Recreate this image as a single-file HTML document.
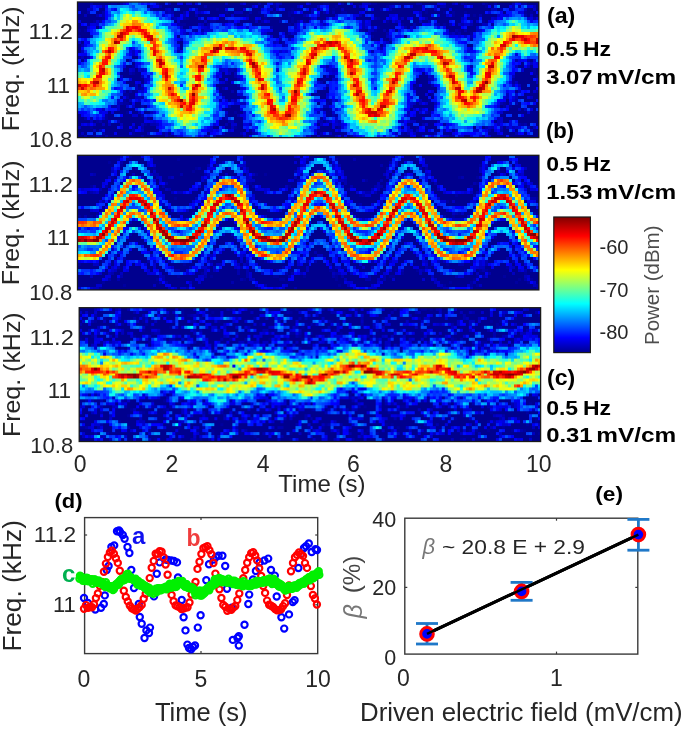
<!DOCTYPE html>
<html><head><meta charset="utf-8"><style>
html,body{margin:0;padding:0;background:#fff;}
#root{position:relative;width:685px;height:729px;overflow:hidden;background:#fff;font-family:"Liberation Sans", sans-serif;}
svg text{font-family:"Liberation Sans", sans-serif;}
</style></head><body><div id="root">
<svg width="685" height="729" style="position:absolute;left:0;top:0"><defs><filter id="fbl" filterUnits="userSpaceOnUse" x="0" y="0" width="685" height="729"><feGaussianBlur stdDeviation="2.5"/></filter><clipPath id="cp0"><rect x="77.5" y="2.0" width="461.3" height="135.6"/></clipPath><clipPath id="cp1"><rect x="77.5" y="155.3" width="461.4" height="134.6"/></clipPath><clipPath id="cp2"><rect x="79.2" y="307.7" width="461.4" height="133.8"/></clipPath></defs><g clip-path="url(#cp0)"><rect x="77.5" y="2.0" width="461.3" height="135.6" fill="#00008f"/><g fill="none" stroke-linejoin="round" filter="url(#fbl)"><polyline points="77.5,85.0 80.5,85.1 83.5,86.4 86.5,87.0 89.5,87.0 92.5,84.8 95.5,81.2 98.5,76.3 101.5,68.7 104.5,61.9 107.5,56.0 110.5,50.1 113.5,44.7 116.5,40.8 119.5,37.3 122.5,34.4 125.5,31.4 128.5,28.3 131.5,27.7 134.5,27.6 137.5,28.5 140.5,30.5 143.5,32.6 146.5,35.1 149.5,37.6 152.5,44.7 155.5,52.7 158.5,59.0 161.5,64.7 164.5,70.0 167.5,81.1 170.5,90.5 173.5,96.1 176.5,98.4 179.5,100.6 182.5,104.8 185.5,109.2 188.5,106.5 191.5,102.3 194.5,90.8 197.5,77.6 200.5,68.9 203.5,60.9 206.5,55.9 209.5,53.7 212.5,51.8 215.5,50.3 218.5,48.8 221.5,47.8 224.5,47.4 227.5,47.1 230.5,47.6 233.5,48.4 236.5,49.1 239.5,49.9 242.5,51.2 245.5,52.8 248.5,55.1 251.5,61.7 254.5,68.0 257.5,74.0 260.5,81.9 263.5,91.0 266.5,97.0 269.5,103.1 272.5,109.7 275.5,114.5 278.5,117.5 281.5,118.5 284.5,117.5 287.5,113.8 290.5,107.2 293.5,98.6 296.5,87.8 299.5,79.8 302.5,72.2 305.5,67.7 308.5,61.5 311.5,55.4 314.5,52.1 317.5,48.7 320.5,46.7 323.5,46.1 326.5,45.5 329.5,44.9 332.5,44.2 335.5,43.6 338.5,43.6 341.5,47.1 344.5,51.1 347.5,57.6 350.5,64.5 353.5,73.5 356.5,82.5 359.5,91.5 362.5,99.8 365.5,107.2 368.5,111.8 371.5,113.2 374.5,114.8 377.5,112.5 380.5,109.5 383.5,104.5 386.5,98.8 389.5,91.7 392.5,84.6 395.5,78.0 398.5,72.0 401.5,66.0 404.5,61.8 407.5,57.9 410.5,55.0 413.5,53.0 416.5,51.0 419.5,49.9 422.5,49.6 425.5,49.3 428.5,49.0 431.5,50.8 434.5,52.9 437.5,55.0 440.5,57.9 443.5,61.8 446.5,66.0 449.5,72.0 452.5,77.9 455.5,83.4 458.5,89.0 461.5,95.0 464.5,100.5 467.5,103.5 470.5,102.5 473.5,97.5 476.5,93.1 479.5,89.4 482.5,85.6 485.5,80.0 488.5,74.0 491.5,67.0 494.5,59.9 497.5,53.4 500.5,47.6 503.5,45.4 506.5,43.1 509.5,41.1 512.5,39.2 515.5,37.3 518.5,37.8 521.5,38.8 524.5,39.8 527.5,40.0 530.5,40.0 533.5,40.1 536.5,40.9" stroke="#20a0ff" stroke-width="48"/><polyline points="77.5,85.0 80.5,85.1 83.5,86.4 86.5,87.0 89.5,87.0 92.5,84.8 95.5,81.2 98.5,76.3 101.5,68.7 104.5,61.9 107.5,56.0 110.5,50.1 113.5,44.7 116.5,40.8 119.5,37.3 122.5,34.4 125.5,31.4 128.5,28.3 131.5,27.7 134.5,27.6 137.5,28.5 140.5,30.5 143.5,32.6 146.5,35.1 149.5,37.6 152.5,44.7 155.5,52.7 158.5,59.0 161.5,64.7 164.5,70.0 167.5,81.1 170.5,90.5 173.5,96.1 176.5,98.4 179.5,100.6 182.5,104.8 185.5,109.2 188.5,106.5 191.5,102.3 194.5,90.8 197.5,77.6 200.5,68.9 203.5,60.9 206.5,55.9 209.5,53.7 212.5,51.8 215.5,50.3 218.5,48.8 221.5,47.8 224.5,47.4 227.5,47.1 230.5,47.6 233.5,48.4 236.5,49.1 239.5,49.9 242.5,51.2 245.5,52.8 248.5,55.1 251.5,61.7 254.5,68.0 257.5,74.0 260.5,81.9 263.5,91.0 266.5,97.0 269.5,103.1 272.5,109.7 275.5,114.5 278.5,117.5 281.5,118.5 284.5,117.5 287.5,113.8 290.5,107.2 293.5,98.6 296.5,87.8 299.5,79.8 302.5,72.2 305.5,67.7 308.5,61.5 311.5,55.4 314.5,52.1 317.5,48.7 320.5,46.7 323.5,46.1 326.5,45.5 329.5,44.9 332.5,44.2 335.5,43.6 338.5,43.6 341.5,47.1 344.5,51.1 347.5,57.6 350.5,64.5 353.5,73.5 356.5,82.5 359.5,91.5 362.5,99.8 365.5,107.2 368.5,111.8 371.5,113.2 374.5,114.8 377.5,112.5 380.5,109.5 383.5,104.5 386.5,98.8 389.5,91.7 392.5,84.6 395.5,78.0 398.5,72.0 401.5,66.0 404.5,61.8 407.5,57.9 410.5,55.0 413.5,53.0 416.5,51.0 419.5,49.9 422.5,49.6 425.5,49.3 428.5,49.0 431.5,50.8 434.5,52.9 437.5,55.0 440.5,57.9 443.5,61.8 446.5,66.0 449.5,72.0 452.5,77.9 455.5,83.4 458.5,89.0 461.5,95.0 464.5,100.5 467.5,103.5 470.5,102.5 473.5,97.5 476.5,93.1 479.5,89.4 482.5,85.6 485.5,80.0 488.5,74.0 491.5,67.0 494.5,59.9 497.5,53.4 500.5,47.6 503.5,45.4 506.5,43.1 509.5,41.1 512.5,39.2 515.5,37.3 518.5,37.8 521.5,38.8 524.5,39.8 527.5,40.0 530.5,40.0 533.5,40.1 536.5,40.9" stroke="#40ffc0" stroke-width="30"/><polyline points="77.5,85.0 80.5,85.1 83.5,86.4 86.5,87.0 89.5,87.0 92.5,84.8 95.5,81.2 98.5,76.3 101.5,68.7 104.5,61.9 107.5,56.0 110.5,50.1 113.5,44.7 116.5,40.8 119.5,37.3 122.5,34.4 125.5,31.4 128.5,28.3 131.5,27.7 134.5,27.6 137.5,28.5 140.5,30.5 143.5,32.6 146.5,35.1 149.5,37.6 152.5,44.7 155.5,52.7 158.5,59.0 161.5,64.7 164.5,70.0 167.5,81.1 170.5,90.5 173.5,96.1 176.5,98.4 179.5,100.6 182.5,104.8 185.5,109.2 188.5,106.5 191.5,102.3 194.5,90.8 197.5,77.6 200.5,68.9 203.5,60.9 206.5,55.9 209.5,53.7 212.5,51.8 215.5,50.3 218.5,48.8 221.5,47.8 224.5,47.4 227.5,47.1 230.5,47.6 233.5,48.4 236.5,49.1 239.5,49.9 242.5,51.2 245.5,52.8 248.5,55.1 251.5,61.7 254.5,68.0 257.5,74.0 260.5,81.9 263.5,91.0 266.5,97.0 269.5,103.1 272.5,109.7 275.5,114.5 278.5,117.5 281.5,118.5 284.5,117.5 287.5,113.8 290.5,107.2 293.5,98.6 296.5,87.8 299.5,79.8 302.5,72.2 305.5,67.7 308.5,61.5 311.5,55.4 314.5,52.1 317.5,48.7 320.5,46.7 323.5,46.1 326.5,45.5 329.5,44.9 332.5,44.2 335.5,43.6 338.5,43.6 341.5,47.1 344.5,51.1 347.5,57.6 350.5,64.5 353.5,73.5 356.5,82.5 359.5,91.5 362.5,99.8 365.5,107.2 368.5,111.8 371.5,113.2 374.5,114.8 377.5,112.5 380.5,109.5 383.5,104.5 386.5,98.8 389.5,91.7 392.5,84.6 395.5,78.0 398.5,72.0 401.5,66.0 404.5,61.8 407.5,57.9 410.5,55.0 413.5,53.0 416.5,51.0 419.5,49.9 422.5,49.6 425.5,49.3 428.5,49.0 431.5,50.8 434.5,52.9 437.5,55.0 440.5,57.9 443.5,61.8 446.5,66.0 449.5,72.0 452.5,77.9 455.5,83.4 458.5,89.0 461.5,95.0 464.5,100.5 467.5,103.5 470.5,102.5 473.5,97.5 476.5,93.1 479.5,89.4 482.5,85.6 485.5,80.0 488.5,74.0 491.5,67.0 494.5,59.9 497.5,53.4 500.5,47.6 503.5,45.4 506.5,43.1 509.5,41.1 512.5,39.2 515.5,37.3 518.5,37.8 521.5,38.8 524.5,39.8 527.5,40.0 530.5,40.0 533.5,40.1 536.5,40.9" stroke="#f0f000" stroke-width="16"/><polyline points="77.5,85.0 80.5,85.1 83.5,86.4 86.5,87.0 89.5,87.0 92.5,84.8 95.5,81.2 98.5,76.3 101.5,68.7 104.5,61.9 107.5,56.0 110.5,50.1 113.5,44.7 116.5,40.8 119.5,37.3 122.5,34.4 125.5,31.4 128.5,28.3 131.5,27.7 134.5,27.6 137.5,28.5 140.5,30.5 143.5,32.6 146.5,35.1 149.5,37.6 152.5,44.7 155.5,52.7 158.5,59.0 161.5,64.7 164.5,70.0 167.5,81.1 170.5,90.5 173.5,96.1 176.5,98.4 179.5,100.6 182.5,104.8 185.5,109.2 188.5,106.5 191.5,102.3 194.5,90.8 197.5,77.6 200.5,68.9 203.5,60.9 206.5,55.9 209.5,53.7 212.5,51.8 215.5,50.3 218.5,48.8 221.5,47.8 224.5,47.4 227.5,47.1 230.5,47.6 233.5,48.4 236.5,49.1 239.5,49.9 242.5,51.2 245.5,52.8 248.5,55.1 251.5,61.7 254.5,68.0 257.5,74.0 260.5,81.9 263.5,91.0 266.5,97.0 269.5,103.1 272.5,109.7 275.5,114.5 278.5,117.5 281.5,118.5 284.5,117.5 287.5,113.8 290.5,107.2 293.5,98.6 296.5,87.8 299.5,79.8 302.5,72.2 305.5,67.7 308.5,61.5 311.5,55.4 314.5,52.1 317.5,48.7 320.5,46.7 323.5,46.1 326.5,45.5 329.5,44.9 332.5,44.2 335.5,43.6 338.5,43.6 341.5,47.1 344.5,51.1 347.5,57.6 350.5,64.5 353.5,73.5 356.5,82.5 359.5,91.5 362.5,99.8 365.5,107.2 368.5,111.8 371.5,113.2 374.5,114.8 377.5,112.5 380.5,109.5 383.5,104.5 386.5,98.8 389.5,91.7 392.5,84.6 395.5,78.0 398.5,72.0 401.5,66.0 404.5,61.8 407.5,57.9 410.5,55.0 413.5,53.0 416.5,51.0 419.5,49.9 422.5,49.6 425.5,49.3 428.5,49.0 431.5,50.8 434.5,52.9 437.5,55.0 440.5,57.9 443.5,61.8 446.5,66.0 449.5,72.0 452.5,77.9 455.5,83.4 458.5,89.0 461.5,95.0 464.5,100.5 467.5,103.5 470.5,102.5 473.5,97.5 476.5,93.1 479.5,89.4 482.5,85.6 485.5,80.0 488.5,74.0 491.5,67.0 494.5,59.9 497.5,53.4 500.5,47.6 503.5,45.4 506.5,43.1 509.5,41.1 512.5,39.2 515.5,37.3 518.5,37.8 521.5,38.8 524.5,39.8 527.5,40.0 530.5,40.0 533.5,40.1 536.5,40.9" stroke="#ff1000" stroke-width="5"/></g></g><g clip-path="url(#cp1)"><rect x="77.5" y="155.3" width="461.4" height="134.6" fill="#00008f"/><g fill="none" stroke-linejoin="round" filter="url(#fbl)"><polyline points="77.5,239.9 80.5,239.7 83.5,239.8 86.5,239.9 89.5,240.0 92.5,240.1 95.5,240.2 98.5,238.4 101.5,235.8 104.5,232.7 107.5,229.0 110.5,224.8 113.5,220.4 116.5,216.0 119.5,211.4 122.5,206.8 125.5,202.7 128.5,199.5 131.5,197.2 134.5,196.8 137.5,198.3 140.5,200.2 143.5,202.9 146.5,206.1 149.5,210.4 152.5,215.6 155.5,222.0 158.5,227.9 161.5,230.8 164.5,233.9 167.5,237.3 170.5,239.6 173.5,240.8 176.5,241.0 179.5,241.1 182.5,241.2 185.5,241.1 188.5,240.0 191.5,238.6 194.5,236.0 197.5,233.0 200.5,229.6 203.5,225.8 206.5,220.4 209.5,214.8 212.5,208.6 215.5,204.4 218.5,201.4 221.5,199.0 224.5,197.8 227.5,197.1 230.5,197.4 233.5,199.3 236.5,202.3 239.5,206.6 242.5,212.8 245.5,220.7 248.5,226.3 251.5,230.9 254.5,235.0 257.5,236.8 260.5,238.1 263.5,238.8 266.5,239.6 269.5,240.4 272.5,240.8 275.5,241.0 278.5,240.7 281.5,240.0 284.5,237.7 287.5,234.0 290.5,229.4 293.5,224.8 296.5,222.4 299.5,216.3 302.5,210.1 305.5,204.4 308.5,199.1 311.5,196.7 314.5,194.8 317.5,193.2 320.5,193.0 323.5,193.9 326.5,197.0 329.5,201.0 332.5,205.8 335.5,211.1 338.5,217.2 341.5,222.5 344.5,227.4 347.5,231.9 350.5,236.1 353.5,238.5 356.5,240.0 359.5,241.5 362.5,241.8 365.5,242.0 368.5,241.6 371.5,240.8 374.5,238.8 377.5,236.2 380.5,233.1 383.5,229.2 386.5,224.7 389.5,219.2 392.5,214.3 395.5,209.8 398.5,205.5 401.5,201.7 404.5,199.0 407.5,197.5 410.5,197.7 413.5,199.7 416.5,202.3 419.5,205.6 422.5,209.4 425.5,215.4 428.5,221.3 431.5,226.0 434.5,229.7 437.5,234.2 440.5,237.0 443.5,238.7 446.5,239.8 449.5,240.8 452.5,241.2 455.5,241.6 458.5,241.6 461.5,241.6 464.5,241.6 467.5,240.0 470.5,238.3 473.5,235.4 476.5,230.8 479.5,224.7 482.5,217.4 485.5,210.4 488.5,205.3 491.5,201.7 494.5,199.9 497.5,198.5 500.5,197.2 503.5,197.4 506.5,197.9 509.5,201.6 512.5,206.1 515.5,210.6 518.5,215.5 521.5,220.8 524.5,225.9 527.5,230.5 530.5,233.9 533.5,236.3 536.5,237.7" stroke="#1ee0ff" stroke-width="46"/><polyline points="77.5,207.7 80.5,207.5 83.5,207.6 86.5,207.7 89.5,207.8 92.5,207.9 95.5,208.0 98.5,206.2 101.5,203.6 104.5,200.5 107.5,196.8 110.5,192.6 113.5,188.2 116.5,183.8 119.5,179.2 122.5,174.6 125.5,170.5 128.5,167.3 131.5,165.0 134.5,164.6 137.5,166.1 140.5,168.0 143.5,170.7 146.5,173.9 149.5,178.2 152.5,183.4 155.5,189.8 158.5,195.7 161.5,198.6 164.5,201.7 167.5,205.1 170.5,207.4 173.5,208.6 176.5,208.8 179.5,208.9 182.5,209.0 185.5,208.9 188.5,207.8 191.5,206.4 194.5,203.8 197.5,200.8 200.5,197.4 203.5,193.6 206.5,188.2 209.5,182.6 212.5,176.4 215.5,172.2 218.5,169.2 221.5,166.8 224.5,165.6 227.5,164.9 230.5,165.2 233.5,167.1 236.5,170.1 239.5,174.4 242.5,180.6 245.5,188.5 248.5,194.1 251.5,198.7 254.5,202.8 257.5,204.6 260.5,205.9 263.5,206.6 266.5,207.4 269.5,208.2 272.5,208.6 275.5,208.8 278.5,208.5 281.5,207.8 284.5,205.5 287.5,201.8 290.5,197.2 293.5,192.6 296.5,190.2 299.5,184.1 302.5,177.9 305.5,172.2 308.5,166.9 311.5,164.5 314.5,162.6 317.5,161.1 320.5,160.8 323.5,161.7 326.5,164.8 329.5,168.8 332.5,173.6 335.5,178.9 338.5,185.0 341.5,190.3 344.5,195.2 347.5,199.7 350.5,203.9 353.5,206.3 356.5,207.8 359.5,209.3 362.5,209.6 365.5,209.8 368.5,209.4 371.5,208.6 374.5,206.6 377.5,204.0 380.5,200.9 383.5,197.0 386.5,192.5 389.5,187.0 392.5,182.1 395.5,177.6 398.5,173.3 401.5,169.5 404.5,166.8 407.5,165.3 410.5,165.5 413.5,167.5 416.5,170.1 419.5,173.4 422.5,177.2 425.5,183.2 428.5,189.1 431.5,193.8 434.5,197.5 437.5,202.0 440.5,204.8 443.5,206.5 446.5,207.6 449.5,208.6 452.5,209.0 455.5,209.4 458.5,209.4 461.5,209.4 464.5,209.4 467.5,207.8 470.5,206.1 473.5,203.2 476.5,198.6 479.5,192.5 482.5,185.2 485.5,178.2 488.5,173.1 491.5,169.5 494.5,167.7 497.5,166.3 500.5,165.0 503.5,165.2 506.5,165.7 509.5,169.4 512.5,173.9 515.5,178.4 518.5,183.3 521.5,188.6 524.5,193.7 527.5,198.3 530.5,201.7 533.5,204.1 536.5,205.5" stroke="#30c0ff" stroke-width="4"/><polyline points="77.5,272.1 80.5,271.9 83.5,272.0 86.5,272.1 89.5,272.2 92.5,272.3 95.5,272.4 98.5,270.6 101.5,268.0 104.5,264.9 107.5,261.2 110.5,257.0 113.5,252.6 116.5,248.2 119.5,243.6 122.5,239.0 125.5,234.9 128.5,231.7 131.5,229.4 134.5,229.0 137.5,230.5 140.5,232.4 143.5,235.1 146.5,238.3 149.5,242.6 152.5,247.8 155.5,254.2 158.5,260.1 161.5,263.0 164.5,266.1 167.5,269.5 170.5,271.8 173.5,273.0 176.5,273.2 179.5,273.3 182.5,273.4 185.5,273.3 188.5,272.2 191.5,270.8 194.5,268.2 197.5,265.2 200.5,261.8 203.5,258.0 206.5,252.6 209.5,246.9 212.5,240.8 215.5,236.6 218.5,233.6 221.5,231.2 224.5,229.9 227.5,229.3 230.5,229.6 233.5,231.5 236.5,234.5 239.5,238.8 242.5,245.0 245.5,252.9 248.5,258.5 251.5,263.1 254.5,267.2 257.5,269.0 260.5,270.3 263.5,271.0 266.5,271.8 269.5,272.6 272.5,273.0 275.5,273.2 278.5,272.9 281.5,272.2 284.5,269.9 287.5,266.2 290.5,261.6 293.5,257.0 296.5,254.6 299.5,248.5 302.5,242.3 305.5,236.6 308.5,231.3 311.5,228.9 314.5,226.9 317.5,225.4 320.5,225.2 323.5,226.1 326.5,229.2 329.5,233.2 332.5,238.0 335.5,243.3 338.5,249.4 341.5,254.7 344.5,259.6 347.5,264.1 350.5,268.3 353.5,270.8 356.5,272.2 359.5,273.8 362.5,274.0 365.5,274.2 368.5,273.8 371.5,273.0 374.5,271.0 377.5,268.4 380.5,265.3 383.5,261.4 386.5,256.9 389.5,251.4 392.5,246.5 395.5,242.0 398.5,237.7 401.5,233.9 404.5,231.2 407.5,229.7 410.5,229.9 413.5,231.9 416.5,234.5 419.5,237.8 422.5,241.6 425.5,247.6 428.5,253.5 431.5,258.2 434.5,261.9 437.5,266.4 440.5,269.2 443.5,270.9 446.5,272.0 449.5,273.0 452.5,273.4 455.5,273.8 458.5,273.8 461.5,273.8 464.5,273.8 467.5,272.2 470.5,270.5 473.5,267.6 476.5,263.0 479.5,256.9 482.5,249.6 485.5,242.6 488.5,237.5 491.5,233.9 494.5,232.1 497.5,230.7 500.5,229.4 503.5,229.6 506.5,230.1 509.5,233.8 512.5,238.3 515.5,242.8 518.5,247.7 521.5,253.0 524.5,258.1 527.5,262.7 530.5,266.1 533.5,268.5 536.5,269.9" stroke="#30c0ff" stroke-width="4"/><polyline points="77.5,223.8 80.5,223.6 83.5,223.7 86.5,223.8 89.5,223.9 92.5,224.0 95.5,224.1 98.5,222.3 101.5,219.7 104.5,216.6 107.5,212.9 110.5,208.7 113.5,204.3 116.5,199.9 119.5,195.3 122.5,190.7 125.5,186.6 128.5,183.4 131.5,181.1 134.5,180.7 137.5,182.2 140.5,184.1 143.5,186.8 146.5,190.0 149.5,194.3 152.5,199.5 155.5,205.9 158.5,211.8 161.5,214.7 164.5,217.8 167.5,221.2 170.5,223.5 173.5,224.7 176.5,224.9 179.5,225.0 182.5,225.1 185.5,225.0 188.5,223.9 191.5,222.5 194.5,219.9 197.5,216.9 200.5,213.5 203.5,209.7 206.5,204.3 209.5,198.7 212.5,192.5 215.5,188.3 218.5,185.3 221.5,182.9 224.5,181.7 227.5,181.0 230.5,181.3 233.5,183.2 236.5,186.2 239.5,190.5 242.5,196.7 245.5,204.6 248.5,210.2 251.5,214.8 254.5,218.9 257.5,220.7 260.5,222.0 263.5,222.7 266.5,223.5 269.5,224.3 272.5,224.7 275.5,224.9 278.5,224.6 281.5,223.9 284.5,221.6 287.5,217.9 290.5,213.3 293.5,208.7 296.5,206.3 299.5,200.2 302.5,194.0 305.5,188.3 308.5,183.0 311.5,180.6 314.5,178.7 317.5,177.2 320.5,176.9 323.5,177.8 326.5,180.9 329.5,184.9 332.5,189.7 335.5,195.0 338.5,201.1 341.5,206.4 344.5,211.3 347.5,215.8 350.5,220.0 353.5,222.4 356.5,223.9 359.5,225.4 362.5,225.7 365.5,225.9 368.5,225.5 371.5,224.7 374.5,222.7 377.5,220.1 380.5,217.0 383.5,213.1 386.5,208.6 389.5,203.1 392.5,198.2 395.5,193.7 398.5,189.4 401.5,185.6 404.5,182.9 407.5,181.4 410.5,181.6 413.5,183.6 416.5,186.2 419.5,189.5 422.5,193.3 425.5,199.3 428.5,205.2 431.5,209.9 434.5,213.6 437.5,218.1 440.5,220.9 443.5,222.6 446.5,223.7 449.5,224.7 452.5,225.1 455.5,225.5 458.5,225.5 461.5,225.5 464.5,225.5 467.5,223.9 470.5,222.2 473.5,219.3 476.5,214.7 479.5,208.6 482.5,201.3 485.5,194.3 488.5,189.2 491.5,185.6 494.5,183.8 497.5,182.4 500.5,181.1 503.5,181.3 506.5,181.8 509.5,185.5 512.5,190.0 515.5,194.5 518.5,199.4 521.5,204.7 524.5,209.8 527.5,214.4 530.5,217.8 533.5,220.2 536.5,221.6" stroke="#ffa000" stroke-width="5"/><polyline points="77.5,256.0 80.5,255.8 83.5,255.9 86.5,256.0 89.5,256.1 92.5,256.2 95.5,256.3 98.5,254.5 101.5,251.9 104.5,248.8 107.5,245.1 110.5,240.9 113.5,236.5 116.5,232.1 119.5,227.5 122.5,222.9 125.5,218.8 128.5,215.6 131.5,213.3 134.5,212.9 137.5,214.4 140.5,216.3 143.5,219.0 146.5,222.2 149.5,226.5 152.5,231.7 155.5,238.1 158.5,244.0 161.5,246.9 164.5,250.0 167.5,253.4 170.5,255.7 173.5,256.9 176.5,257.1 179.5,257.2 182.5,257.3 185.5,257.2 188.5,256.1 191.5,254.7 194.5,252.1 197.5,249.1 200.5,245.7 203.5,241.9 206.5,236.5 209.5,230.8 212.5,224.7 215.5,220.5 218.5,217.5 221.5,215.1 224.5,213.8 227.5,213.2 230.5,213.5 233.5,215.4 236.5,218.4 239.5,222.7 242.5,228.9 245.5,236.8 248.5,242.4 251.5,247.0 254.5,251.1 257.5,252.9 260.5,254.2 263.5,254.9 266.5,255.7 269.5,256.5 272.5,256.9 275.5,257.1 278.5,256.8 281.5,256.1 284.5,253.8 287.5,250.1 290.5,245.5 293.5,240.9 296.5,238.5 299.5,232.4 302.5,226.2 305.5,220.5 308.5,215.2 311.5,212.8 314.5,210.8 317.5,209.3 320.5,209.1 323.5,210.0 326.5,213.1 329.5,217.1 332.5,221.9 335.5,227.2 338.5,233.3 341.5,238.6 344.5,243.5 347.5,248.0 350.5,252.2 353.5,254.6 356.5,256.1 359.5,257.6 362.5,257.9 365.5,258.1 368.5,257.7 371.5,256.9 374.5,254.9 377.5,252.3 380.5,249.2 383.5,245.3 386.5,240.8 389.5,235.3 392.5,230.4 395.5,225.9 398.5,221.6 401.5,217.8 404.5,215.1 407.5,213.6 410.5,213.8 413.5,215.8 416.5,218.4 419.5,221.7 422.5,225.5 425.5,231.5 428.5,237.4 431.5,242.1 434.5,245.8 437.5,250.3 440.5,253.1 443.5,254.8 446.5,255.9 449.5,256.9 452.5,257.3 455.5,257.7 458.5,257.7 461.5,257.7 464.5,257.7 467.5,256.1 470.5,254.4 473.5,251.5 476.5,246.9 479.5,240.8 482.5,233.5 485.5,226.5 488.5,221.4 491.5,217.8 494.5,216.0 497.5,214.6 500.5,213.3 503.5,213.5 506.5,214.0 509.5,217.7 512.5,222.2 515.5,226.7 518.5,231.6 521.5,236.9 524.5,242.0 527.5,246.6 530.5,250.0 533.5,252.4 536.5,253.8" stroke="#ffa000" stroke-width="5"/><polyline points="77.5,239.9 80.5,239.7 83.5,239.8 86.5,239.9 89.5,240.0 92.5,240.1 95.5,240.2 98.5,238.4 101.5,235.8 104.5,232.7 107.5,229.0 110.5,224.8 113.5,220.4 116.5,216.0 119.5,211.4 122.5,206.8 125.5,202.7 128.5,199.5 131.5,197.2 134.5,196.8 137.5,198.3 140.5,200.2 143.5,202.9 146.5,206.1 149.5,210.4 152.5,215.6 155.5,222.0 158.5,227.9 161.5,230.8 164.5,233.9 167.5,237.3 170.5,239.6 173.5,240.8 176.5,241.0 179.5,241.1 182.5,241.2 185.5,241.1 188.5,240.0 191.5,238.6 194.5,236.0 197.5,233.0 200.5,229.6 203.5,225.8 206.5,220.4 209.5,214.8 212.5,208.6 215.5,204.4 218.5,201.4 221.5,199.0 224.5,197.8 227.5,197.1 230.5,197.4 233.5,199.3 236.5,202.3 239.5,206.6 242.5,212.8 245.5,220.7 248.5,226.3 251.5,230.9 254.5,235.0 257.5,236.8 260.5,238.1 263.5,238.8 266.5,239.6 269.5,240.4 272.5,240.8 275.5,241.0 278.5,240.7 281.5,240.0 284.5,237.7 287.5,234.0 290.5,229.4 293.5,224.8 296.5,222.4 299.5,216.3 302.5,210.1 305.5,204.4 308.5,199.1 311.5,196.7 314.5,194.8 317.5,193.2 320.5,193.0 323.5,193.9 326.5,197.0 329.5,201.0 332.5,205.8 335.5,211.1 338.5,217.2 341.5,222.5 344.5,227.4 347.5,231.9 350.5,236.1 353.5,238.5 356.5,240.0 359.5,241.5 362.5,241.8 365.5,242.0 368.5,241.6 371.5,240.8 374.5,238.8 377.5,236.2 380.5,233.1 383.5,229.2 386.5,224.7 389.5,219.2 392.5,214.3 395.5,209.8 398.5,205.5 401.5,201.7 404.5,199.0 407.5,197.5 410.5,197.7 413.5,199.7 416.5,202.3 419.5,205.6 422.5,209.4 425.5,215.4 428.5,221.3 431.5,226.0 434.5,229.7 437.5,234.2 440.5,237.0 443.5,238.7 446.5,239.8 449.5,240.8 452.5,241.2 455.5,241.6 458.5,241.6 461.5,241.6 464.5,241.6 467.5,240.0 470.5,238.3 473.5,235.4 476.5,230.8 479.5,224.7 482.5,217.4 485.5,210.4 488.5,205.3 491.5,201.7 494.5,199.9 497.5,198.5 500.5,197.2 503.5,197.4 506.5,197.9 509.5,201.6 512.5,206.1 515.5,210.6 518.5,215.5 521.5,220.8 524.5,225.9 527.5,230.5 530.5,233.9 533.5,236.3 536.5,237.7" stroke="#c00000" stroke-width="6"/></g></g><g clip-path="url(#cp2)"><rect x="79.2" y="307.7" width="461.4" height="133.8" fill="#00008f"/><g fill="none" stroke-linejoin="round" filter="url(#fbl)"><polyline points="79.2,369.0 82.2,369.2 85.2,369.3 88.2,369.4 91.2,369.6 94.2,369.7 97.2,369.9 100.2,370.1 103.2,370.9 106.2,371.8 109.2,372.7 112.2,373.6 115.2,374.4 118.2,375.3 121.2,376.2 124.2,377.0 127.2,376.6 130.2,376.2 133.2,375.8 136.2,375.4 139.2,375.0 142.2,374.6 145.2,374.2 148.2,373.6 151.2,372.6 154.2,371.6 157.2,370.6 160.2,369.6 163.2,368.6 166.2,367.6 169.2,367.5 172.2,368.6 175.2,369.7 178.2,370.9 181.2,372.0 184.2,373.2 187.2,374.3 190.2,375.2 193.2,375.6 196.2,376.0 199.2,376.5 202.2,376.9 205.2,377.3 208.2,377.7 211.2,378.2 214.2,378.6 217.2,379.0 220.2,378.7 223.2,378.3 226.2,378.0 229.2,377.7 232.2,377.4 235.2,377.1 238.2,376.3 241.2,375.3 244.2,374.3 247.2,373.3 250.2,372.3 253.2,371.3 256.2,370.3 259.2,369.3 262.2,369.6 265.2,370.3 268.2,371.1 271.2,371.8 274.2,372.6 277.2,373.3 280.2,374.1 283.2,374.8 286.2,375.6 289.2,376.2 292.2,376.9 295.2,377.5 298.2,378.1 301.2,378.8 304.2,379.4 307.2,380.0 310.2,380.6 313.2,380.5 316.2,379.4 319.2,378.2 322.2,377.0 325.2,375.8 328.2,374.7 331.2,373.5 334.2,372.3 337.2,371.2 340.2,370.1 343.2,369.0 346.2,367.9 349.2,366.8 352.2,365.7 355.2,365.4 358.2,366.6 361.2,367.7 364.2,368.8 367.2,369.9 370.2,371.0 373.2,371.7 376.2,372.3 379.2,372.9 382.2,373.6 385.2,374.2 388.2,374.8 391.2,374.9 394.2,374.8 397.2,374.7 400.2,374.5 403.2,374.4 406.2,374.3 409.2,374.2 412.2,374.0 415.2,373.6 418.2,373.0 421.2,372.4 424.2,371.8 427.2,371.2 430.2,370.6 433.2,370.0 436.2,369.4 439.2,368.8 442.2,368.2 445.2,369.2 448.2,370.8 451.2,372.3 454.2,373.9 457.2,375.5 460.2,377.0 463.2,376.6 466.2,376.2 469.2,375.8 472.2,375.4 475.2,375.0 478.2,374.6 481.2,374.2 484.2,374.0 487.2,374.1 490.2,374.3 493.2,374.4 496.2,374.5 499.2,374.6 502.2,374.7 505.2,374.8 508.2,374.9 511.2,374.9 514.2,373.9 517.2,372.8 520.2,371.8 523.2,370.8 526.2,369.7 529.2,368.7 532.2,367.6 535.2,367.1 538.2,367.5" stroke="#20a0ff" stroke-width="48"/><polyline points="79.2,369.0 82.2,369.2 85.2,369.3 88.2,369.4 91.2,369.6 94.2,369.7 97.2,369.9 100.2,370.1 103.2,370.9 106.2,371.8 109.2,372.7 112.2,373.6 115.2,374.4 118.2,375.3 121.2,376.2 124.2,377.0 127.2,376.6 130.2,376.2 133.2,375.8 136.2,375.4 139.2,375.0 142.2,374.6 145.2,374.2 148.2,373.6 151.2,372.6 154.2,371.6 157.2,370.6 160.2,369.6 163.2,368.6 166.2,367.6 169.2,367.5 172.2,368.6 175.2,369.7 178.2,370.9 181.2,372.0 184.2,373.2 187.2,374.3 190.2,375.2 193.2,375.6 196.2,376.0 199.2,376.5 202.2,376.9 205.2,377.3 208.2,377.7 211.2,378.2 214.2,378.6 217.2,379.0 220.2,378.7 223.2,378.3 226.2,378.0 229.2,377.7 232.2,377.4 235.2,377.1 238.2,376.3 241.2,375.3 244.2,374.3 247.2,373.3 250.2,372.3 253.2,371.3 256.2,370.3 259.2,369.3 262.2,369.6 265.2,370.3 268.2,371.1 271.2,371.8 274.2,372.6 277.2,373.3 280.2,374.1 283.2,374.8 286.2,375.6 289.2,376.2 292.2,376.9 295.2,377.5 298.2,378.1 301.2,378.8 304.2,379.4 307.2,380.0 310.2,380.6 313.2,380.5 316.2,379.4 319.2,378.2 322.2,377.0 325.2,375.8 328.2,374.7 331.2,373.5 334.2,372.3 337.2,371.2 340.2,370.1 343.2,369.0 346.2,367.9 349.2,366.8 352.2,365.7 355.2,365.4 358.2,366.6 361.2,367.7 364.2,368.8 367.2,369.9 370.2,371.0 373.2,371.7 376.2,372.3 379.2,372.9 382.2,373.6 385.2,374.2 388.2,374.8 391.2,374.9 394.2,374.8 397.2,374.7 400.2,374.5 403.2,374.4 406.2,374.3 409.2,374.2 412.2,374.0 415.2,373.6 418.2,373.0 421.2,372.4 424.2,371.8 427.2,371.2 430.2,370.6 433.2,370.0 436.2,369.4 439.2,368.8 442.2,368.2 445.2,369.2 448.2,370.8 451.2,372.3 454.2,373.9 457.2,375.5 460.2,377.0 463.2,376.6 466.2,376.2 469.2,375.8 472.2,375.4 475.2,375.0 478.2,374.6 481.2,374.2 484.2,374.0 487.2,374.1 490.2,374.3 493.2,374.4 496.2,374.5 499.2,374.6 502.2,374.7 505.2,374.8 508.2,374.9 511.2,374.9 514.2,373.9 517.2,372.8 520.2,371.8 523.2,370.8 526.2,369.7 529.2,368.7 532.2,367.6 535.2,367.1 538.2,367.5" stroke="#40ffc0" stroke-width="30"/><polyline points="79.2,369.0 82.2,369.2 85.2,369.3 88.2,369.4 91.2,369.6 94.2,369.7 97.2,369.9 100.2,370.1 103.2,370.9 106.2,371.8 109.2,372.7 112.2,373.6 115.2,374.4 118.2,375.3 121.2,376.2 124.2,377.0 127.2,376.6 130.2,376.2 133.2,375.8 136.2,375.4 139.2,375.0 142.2,374.6 145.2,374.2 148.2,373.6 151.2,372.6 154.2,371.6 157.2,370.6 160.2,369.6 163.2,368.6 166.2,367.6 169.2,367.5 172.2,368.6 175.2,369.7 178.2,370.9 181.2,372.0 184.2,373.2 187.2,374.3 190.2,375.2 193.2,375.6 196.2,376.0 199.2,376.5 202.2,376.9 205.2,377.3 208.2,377.7 211.2,378.2 214.2,378.6 217.2,379.0 220.2,378.7 223.2,378.3 226.2,378.0 229.2,377.7 232.2,377.4 235.2,377.1 238.2,376.3 241.2,375.3 244.2,374.3 247.2,373.3 250.2,372.3 253.2,371.3 256.2,370.3 259.2,369.3 262.2,369.6 265.2,370.3 268.2,371.1 271.2,371.8 274.2,372.6 277.2,373.3 280.2,374.1 283.2,374.8 286.2,375.6 289.2,376.2 292.2,376.9 295.2,377.5 298.2,378.1 301.2,378.8 304.2,379.4 307.2,380.0 310.2,380.6 313.2,380.5 316.2,379.4 319.2,378.2 322.2,377.0 325.2,375.8 328.2,374.7 331.2,373.5 334.2,372.3 337.2,371.2 340.2,370.1 343.2,369.0 346.2,367.9 349.2,366.8 352.2,365.7 355.2,365.4 358.2,366.6 361.2,367.7 364.2,368.8 367.2,369.9 370.2,371.0 373.2,371.7 376.2,372.3 379.2,372.9 382.2,373.6 385.2,374.2 388.2,374.8 391.2,374.9 394.2,374.8 397.2,374.7 400.2,374.5 403.2,374.4 406.2,374.3 409.2,374.2 412.2,374.0 415.2,373.6 418.2,373.0 421.2,372.4 424.2,371.8 427.2,371.2 430.2,370.6 433.2,370.0 436.2,369.4 439.2,368.8 442.2,368.2 445.2,369.2 448.2,370.8 451.2,372.3 454.2,373.9 457.2,375.5 460.2,377.0 463.2,376.6 466.2,376.2 469.2,375.8 472.2,375.4 475.2,375.0 478.2,374.6 481.2,374.2 484.2,374.0 487.2,374.1 490.2,374.3 493.2,374.4 496.2,374.5 499.2,374.6 502.2,374.7 505.2,374.8 508.2,374.9 511.2,374.9 514.2,373.9 517.2,372.8 520.2,371.8 523.2,370.8 526.2,369.7 529.2,368.7 532.2,367.6 535.2,367.1 538.2,367.5" stroke="#f0f000" stroke-width="16"/><polyline points="79.2,369.0 82.2,369.2 85.2,369.3 88.2,369.4 91.2,369.6 94.2,369.7 97.2,369.9 100.2,370.1 103.2,370.9 106.2,371.8 109.2,372.7 112.2,373.6 115.2,374.4 118.2,375.3 121.2,376.2 124.2,377.0 127.2,376.6 130.2,376.2 133.2,375.8 136.2,375.4 139.2,375.0 142.2,374.6 145.2,374.2 148.2,373.6 151.2,372.6 154.2,371.6 157.2,370.6 160.2,369.6 163.2,368.6 166.2,367.6 169.2,367.5 172.2,368.6 175.2,369.7 178.2,370.9 181.2,372.0 184.2,373.2 187.2,374.3 190.2,375.2 193.2,375.6 196.2,376.0 199.2,376.5 202.2,376.9 205.2,377.3 208.2,377.7 211.2,378.2 214.2,378.6 217.2,379.0 220.2,378.7 223.2,378.3 226.2,378.0 229.2,377.7 232.2,377.4 235.2,377.1 238.2,376.3 241.2,375.3 244.2,374.3 247.2,373.3 250.2,372.3 253.2,371.3 256.2,370.3 259.2,369.3 262.2,369.6 265.2,370.3 268.2,371.1 271.2,371.8 274.2,372.6 277.2,373.3 280.2,374.1 283.2,374.8 286.2,375.6 289.2,376.2 292.2,376.9 295.2,377.5 298.2,378.1 301.2,378.8 304.2,379.4 307.2,380.0 310.2,380.6 313.2,380.5 316.2,379.4 319.2,378.2 322.2,377.0 325.2,375.8 328.2,374.7 331.2,373.5 334.2,372.3 337.2,371.2 340.2,370.1 343.2,369.0 346.2,367.9 349.2,366.8 352.2,365.7 355.2,365.4 358.2,366.6 361.2,367.7 364.2,368.8 367.2,369.9 370.2,371.0 373.2,371.7 376.2,372.3 379.2,372.9 382.2,373.6 385.2,374.2 388.2,374.8 391.2,374.9 394.2,374.8 397.2,374.7 400.2,374.5 403.2,374.4 406.2,374.3 409.2,374.2 412.2,374.0 415.2,373.6 418.2,373.0 421.2,372.4 424.2,371.8 427.2,371.2 430.2,370.6 433.2,370.0 436.2,369.4 439.2,368.8 442.2,368.2 445.2,369.2 448.2,370.8 451.2,372.3 454.2,373.9 457.2,375.5 460.2,377.0 463.2,376.6 466.2,376.2 469.2,375.8 472.2,375.4 475.2,375.0 478.2,374.6 481.2,374.2 484.2,374.0 487.2,374.1 490.2,374.3 493.2,374.4 496.2,374.5 499.2,374.6 502.2,374.7 505.2,374.8 508.2,374.9 511.2,374.9 514.2,373.9 517.2,372.8 520.2,371.8 523.2,370.8 526.2,369.7 529.2,368.7 532.2,367.6 535.2,367.1 538.2,367.5" stroke="#ff1000" stroke-width="5"/></g></g></svg>
<canvas id="c0" style="position:absolute;left:77.5px;top:2.0px;width:461.3px;height:135.6px;filter:blur(0.65px)"></canvas>
<canvas id="c1" style="position:absolute;left:77.5px;top:155.3px;width:461.4px;height:134.6px;filter:blur(0.65px)"></canvas>
<canvas id="c2" style="position:absolute;left:79.2px;top:307.7px;width:461.4px;height:133.8px;filter:blur(0.65px)"></canvas>
<svg width="685" height="729" viewBox="0 0 685 729" style="position:absolute;left:0;top:0">
<rect x="77.5" y="2.0" width="461.3" height="135.6" fill="none" stroke="#1a1a1a" stroke-width="1.3"/>
<rect x="77.5" y="155.3" width="461.4" height="134.6" fill="none" stroke="#1a1a1a" stroke-width="1.3"/>
<rect x="79.2" y="307.7" width="461.4" height="133.8" fill="none" stroke="#1a1a1a" stroke-width="1.3"/>
<text x="28.6" y="39.2" font-size="22.5" text-anchor="start" font-weight="normal" fill="#262626" textLength="44.2" lengthAdjust="spacingAndGlyphs"  style="">11.2</text>
<text x="70.0" y="92.6" font-size="22.5" text-anchor="end" font-weight="normal" fill="#262626"  style="">11</text>
<text x="72.2" y="147.4" font-size="22" text-anchor="end" font-weight="normal" fill="#262626"  style="">10.8</text>
<text transform="translate(19.2,131.2) rotate(-90)" font-size="24.3" fill="#262626" textLength="124.8" lengthAdjust="spacingAndGlyphs">Freq. (kHz)</text>
<text x="28.6" y="191.7" font-size="22.5" text-anchor="start" font-weight="normal" fill="#262626" textLength="44.2" lengthAdjust="spacingAndGlyphs"  style="">11.2</text>
<text x="70.0" y="245.1" font-size="22.5" text-anchor="end" font-weight="normal" fill="#262626"  style="">11</text>
<text x="72.2" y="299.9" font-size="22" text-anchor="end" font-weight="normal" fill="#262626"  style="">10.8</text>
<text transform="translate(19.2,285.3) rotate(-90)" font-size="24.3" fill="#262626" textLength="124.8" lengthAdjust="spacingAndGlyphs">Freq. (kHz)</text>
<text x="29.6" y="344.7" font-size="22.5" text-anchor="start" font-weight="normal" fill="#262626" textLength="44.2" lengthAdjust="spacingAndGlyphs"  style="">11.2</text>
<text x="71.0" y="398.1" font-size="22.5" text-anchor="end" font-weight="normal" fill="#262626"  style="">11</text>
<text x="73.2" y="452.9" font-size="22" text-anchor="end" font-weight="normal" fill="#262626"  style="">10.8</text>
<text transform="translate(19.5,437.09999999999997) rotate(-90)" font-size="24.3" fill="#262626" textLength="124.8" lengthAdjust="spacingAndGlyphs">Freq. (kHz)</text>
<text x="80.1" y="472.3" font-size="23" text-anchor="middle" font-weight="normal" fill="#262626"  style="">0</text>
<text x="172.0" y="472.3" font-size="23" text-anchor="middle" font-weight="normal" fill="#262626"  style="">2</text>
<text x="263.2" y="472.3" font-size="23" text-anchor="middle" font-weight="normal" fill="#262626"  style="">4</text>
<text x="353.4" y="472.3" font-size="23" text-anchor="middle" font-weight="normal" fill="#262626"  style="">6</text>
<text x="446.0" y="472.3" font-size="23" text-anchor="middle" font-weight="normal" fill="#262626"  style="">8</text>
<text x="538.8" y="472.3" font-size="23" text-anchor="middle" font-weight="normal" fill="#262626"  style="">10</text>
<text x="278.3" y="491.6" font-size="23.6" text-anchor="start" font-weight="normal" fill="#262626" textLength="87.2" lengthAdjust="spacingAndGlyphs"  style="">Time (s)</text>
<text x="546.9" y="23.0" font-size="22" text-anchor="start" font-weight="bold" fill="#000" textLength="28.4" lengthAdjust="spacingAndGlyphs"  style="">(a)</text>
<text x="546.0" y="137.7" font-size="22" text-anchor="start" font-weight="bold" fill="#000" textLength="28.2" lengthAdjust="spacingAndGlyphs"  style="">(b)</text>
<text x="547.0" y="384.5" font-size="22" text-anchor="start" font-weight="bold" fill="#000" textLength="28.2" lengthAdjust="spacingAndGlyphs"  style="">(c)</text>
<text x="546.2" y="55.9" font-size="19.6" font-weight="bold" fill="#000" textLength="32.0" lengthAdjust="spacingAndGlyphs">0.5</text>
<text x="582.9" y="55.9" font-size="19.6" font-weight="bold" fill="#000" textLength="28.0" lengthAdjust="spacingAndGlyphs">Hz</text>
<text x="546.2" y="83.7" font-size="19.6" font-weight="bold" fill="#000" textLength="46.4" lengthAdjust="spacingAndGlyphs">3.07</text>
<text x="596.3" y="83.7" font-size="19.6" font-weight="bold" fill="#000" textLength="80.0" lengthAdjust="spacingAndGlyphs">mV/cm</text>
<text x="546.2" y="171.3" font-size="19.6" font-weight="bold" fill="#000" textLength="32.0" lengthAdjust="spacingAndGlyphs">0.5</text>
<text x="582.9" y="171.3" font-size="19.6" font-weight="bold" fill="#000" textLength="28.0" lengthAdjust="spacingAndGlyphs">Hz</text>
<text x="546.2" y="198.7" font-size="19.6" font-weight="bold" fill="#000" textLength="46.4" lengthAdjust="spacingAndGlyphs">1.53</text>
<text x="596.3" y="198.7" font-size="19.6" font-weight="bold" fill="#000" textLength="80.0" lengthAdjust="spacingAndGlyphs">mV/cm</text>
<text x="546.2" y="415.0" font-size="19.6" font-weight="bold" fill="#000" textLength="32.0" lengthAdjust="spacingAndGlyphs">0.5</text>
<text x="582.9" y="415.0" font-size="19.6" font-weight="bold" fill="#000" textLength="28.0" lengthAdjust="spacingAndGlyphs">Hz</text>
<text x="546.2" y="442.4" font-size="19.6" font-weight="bold" fill="#000" textLength="46.4" lengthAdjust="spacingAndGlyphs">0.31</text>
<text x="596.3" y="442.4" font-size="19.6" font-weight="bold" fill="#000" textLength="80.0" lengthAdjust="spacingAndGlyphs">mV/cm</text>
<defs><linearGradient id="jet" x1="0" y1="1" x2="0" y2="0">
<stop offset="0" stop-color="#00008f"/><stop offset="0.11" stop-color="#0000ff"/>
<stop offset="0.36" stop-color="#00ffff"/><stop offset="0.61" stop-color="#ffff00"/>
<stop offset="0.86" stop-color="#ff0000"/><stop offset="1" stop-color="#800000"/></linearGradient></defs>
<rect x="553.8" y="217" width="36.6" height="135.6" fill="url(#jet)" stroke="#1a1a1a" stroke-width="1.2"/>
<text x="599.5" y="253.9" font-size="19.5" text-anchor="start" font-weight="normal" fill="#262626" textLength="29" lengthAdjust="spacingAndGlyphs"  style="">-60</text>
<text x="599.5" y="296.9" font-size="19.5" text-anchor="start" font-weight="normal" fill="#262626" textLength="29" lengthAdjust="spacingAndGlyphs"  style="">-70</text>
<text x="599.5" y="338.9" font-size="19.5" text-anchor="start" font-weight="normal" fill="#262626" textLength="29" lengthAdjust="spacingAndGlyphs"  style="">-80</text>
<text transform="translate(659.3,345) rotate(-90)" font-size="20.5" fill="#4d4d4d" textLength="119.5" lengthAdjust="spacingAndGlyphs">Power (dBm)</text>
<rect x="84.6" y="517.6" width="233.1" height="136.0" fill="none" stroke="#3a3a3a" stroke-width="1.4"/>
<g stroke="#3a3a3a" stroke-width="1.2"><line x1="201.0" y1="653.6" x2="201.0" y2="651.1"/><line x1="201.0" y1="517.6" x2="201.0" y2="520.1"/><line x1="84.6" y1="535.0" x2="87.1" y2="535.0"/><line x1="317.7" y1="535.0" x2="315.2" y2="535.0"/><line x1="84.6" y1="604.8" x2="87.1" y2="604.8"/><line x1="317.7" y1="604.8" x2="315.2" y2="604.8"/></g>
<g fill="none" stroke="#0000ff" stroke-width="2.2"><circle cx="84.0" cy="598.0" r="3.1"/><circle cx="87.8" cy="603.0" r="3.1"/><circle cx="95.3" cy="609.6" r="3.1"/><circle cx="101.0" cy="607.7" r="3.1"/><circle cx="103.8" cy="604.0" r="3.1"/><circle cx="104.8" cy="595.4" r="3.1"/><circle cx="106.7" cy="570.0" r="3.1"/><circle cx="108.6" cy="566.0" r="3.1"/><circle cx="111.4" cy="547.0" r="3.1"/><circle cx="114.2" cy="545.4" r="3.1"/><circle cx="117.0" cy="531.2" r="3.1"/><circle cx="119.0" cy="530.5" r="3.1"/><circle cx="120.0" cy="532.0" r="3.1"/><circle cx="122.8" cy="535.0" r="3.1"/><circle cx="124.6" cy="538.7" r="3.1"/><circle cx="127.5" cy="547.0" r="3.1"/><circle cx="129.4" cy="553.0" r="3.1"/><circle cx="131.3" cy="570.0" r="3.1"/><circle cx="134.0" cy="588.0" r="3.1"/><circle cx="138.8" cy="604.0" r="3.1"/><circle cx="139.8" cy="617.0" r="3.1"/><circle cx="141.7" cy="623.8" r="3.1"/><circle cx="146.4" cy="630.4" r="3.1"/><circle cx="150.0" cy="627.6" r="3.1"/><circle cx="144.5" cy="638.0" r="3.1"/><circle cx="149.0" cy="633.0" r="3.1"/><circle cx="154.0" cy="596.4" r="3.1"/><circle cx="156.8" cy="573.7" r="3.1"/><circle cx="159.6" cy="562.4" r="3.1"/><circle cx="165.7" cy="559.5" r="3.1"/><circle cx="168.0" cy="560.0" r="3.1"/><circle cx="171.3" cy="560.5" r="3.1"/><circle cx="174.0" cy="561.0" r="3.1"/><circle cx="177.0" cy="562.4" r="3.1"/><circle cx="178.0" cy="577.5" r="3.1"/><circle cx="181.7" cy="600.0" r="3.1"/><circle cx="183.6" cy="617.2" r="3.1"/><circle cx="185.5" cy="630.4" r="3.1"/><circle cx="187.4" cy="644.6" r="3.1"/><circle cx="189.0" cy="648.0" r="3.1"/><circle cx="191.2" cy="649.3" r="3.1"/><circle cx="193.0" cy="647.0" r="3.1"/><circle cx="195.0" cy="645.5" r="3.1"/><circle cx="197.8" cy="627.6" r="3.1"/><circle cx="200.6" cy="615.3" r="3.1"/><circle cx="206.3" cy="580.3" r="3.1"/><circle cx="209.0" cy="564.3" r="3.1"/><circle cx="213.9" cy="559.5" r="3.1"/><circle cx="216.0" cy="557.0" r="3.1"/><circle cx="218.6" cy="555.8" r="3.1"/><circle cx="222.4" cy="555.8" r="3.1"/><circle cx="225.2" cy="566.0" r="3.1"/><circle cx="227.0" cy="588.8" r="3.1"/><circle cx="231.8" cy="607.7" r="3.1"/><circle cx="232.8" cy="639.9" r="3.1"/><circle cx="237.5" cy="638.0" r="3.1"/><circle cx="238.8" cy="636.2" r="3.1"/><circle cx="238.8" cy="645.6" r="3.1"/><circle cx="244.5" cy="624.8" r="3.1"/><circle cx="248.3" cy="604.0" r="3.1"/><circle cx="249.2" cy="594.6" r="3.1"/><circle cx="253.0" cy="579.4" r="3.1"/><circle cx="255.9" cy="571.0" r="3.1"/><circle cx="259.6" cy="562.4" r="3.1"/><circle cx="264.4" cy="560.5" r="3.1"/><circle cx="268.2" cy="558.6" r="3.1"/><circle cx="271.0" cy="570.0" r="3.1"/><circle cx="274.8" cy="575.6" r="3.1"/><circle cx="276.7" cy="596.5" r="3.1"/><circle cx="281.4" cy="617.3" r="3.1"/><circle cx="284.2" cy="628.6" r="3.1"/><circle cx="289.0" cy="614.4" r="3.1"/><circle cx="292.8" cy="602.1" r="3.1"/><circle cx="294.6" cy="600.2" r="3.1"/><circle cx="298.4" cy="568.0" r="3.1"/><circle cx="301.3" cy="553.9" r="3.1"/><circle cx="304.0" cy="548.0" r="3.1"/><circle cx="306.0" cy="546.3" r="3.1"/><circle cx="308.8" cy="543.5" r="3.1"/><circle cx="311.7" cy="552.0" r="3.1"/><circle cx="315.5" cy="549.2" r="3.1"/><circle cx="317.0" cy="550.0" r="3.1"/></g>
<g fill="none" stroke="#ff0000" stroke-width="2.2"><circle cx="84.0" cy="608.7" r="3.1"/><circle cx="86.0" cy="605.1" r="3.1"/><circle cx="88.0" cy="607.7" r="3.1"/><circle cx="90.0" cy="607.0" r="3.1"/><circle cx="92.0" cy="607.3" r="3.1"/><circle cx="94.0" cy="604.3" r="3.1"/><circle cx="95.9" cy="598.1" r="3.1"/><circle cx="97.9" cy="593.4" r="3.1"/><circle cx="99.9" cy="585.9" r="3.1"/><circle cx="101.9" cy="581.9" r="3.1"/><circle cx="103.9" cy="571.8" r="3.1"/><circle cx="105.9" cy="563.6" r="3.1"/><circle cx="107.9" cy="556.9" r="3.1"/><circle cx="109.9" cy="552.4" r="3.1"/><circle cx="111.9" cy="550.6" r="3.1"/><circle cx="113.9" cy="553.7" r="3.1"/><circle cx="115.9" cy="558.3" r="3.1"/><circle cx="117.8" cy="562.9" r="3.1"/><circle cx="119.8" cy="570.8" r="3.1"/><circle cx="121.8" cy="579.3" r="3.1"/><circle cx="123.8" cy="590.8" r="3.1"/><circle cx="125.8" cy="596.9" r="3.1"/><circle cx="127.8" cy="601.4" r="3.1"/><circle cx="129.8" cy="605.6" r="3.1"/><circle cx="131.8" cy="608.2" r="3.1"/><circle cx="133.8" cy="609.2" r="3.1"/><circle cx="135.8" cy="610.5" r="3.1"/><circle cx="137.7" cy="608.8" r="3.1"/><circle cx="139.7" cy="607.1" r="3.1"/><circle cx="141.7" cy="604.9" r="3.1"/><circle cx="143.7" cy="598.8" r="3.1"/><circle cx="145.7" cy="593.7" r="3.1"/><circle cx="147.7" cy="587.5" r="3.1"/><circle cx="149.7" cy="578.1" r="3.1"/><circle cx="151.7" cy="567.7" r="3.1"/><circle cx="153.7" cy="560.9" r="3.1"/><circle cx="155.7" cy="553.7" r="3.1"/><circle cx="157.7" cy="553.9" r="3.1"/><circle cx="159.6" cy="551.2" r="3.1"/><circle cx="161.6" cy="551.7" r="3.1"/><circle cx="163.6" cy="557.3" r="3.1"/><circle cx="165.6" cy="564.6" r="3.1"/><circle cx="167.6" cy="574.7" r="3.1"/><circle cx="169.6" cy="585.8" r="3.1"/><circle cx="171.6" cy="594.9" r="3.1"/><circle cx="173.6" cy="601.2" r="3.1"/><circle cx="175.6" cy="605.4" r="3.1"/><circle cx="177.6" cy="606.3" r="3.1"/><circle cx="179.6" cy="607.1" r="3.1"/><circle cx="181.5" cy="609.1" r="3.1"/><circle cx="183.5" cy="608.5" r="3.1"/><circle cx="185.5" cy="607.6" r="3.1"/><circle cx="187.5" cy="607.2" r="3.1"/><circle cx="189.5" cy="602.5" r="3.1"/><circle cx="191.5" cy="594.6" r="3.1"/><circle cx="193.5" cy="586.7" r="3.1"/><circle cx="195.5" cy="582.0" r="3.1"/><circle cx="197.5" cy="568.9" r="3.1"/><circle cx="199.5" cy="561.8" r="3.1"/><circle cx="201.4" cy="554.0" r="3.1"/><circle cx="203.4" cy="548.3" r="3.1"/><circle cx="205.4" cy="547.2" r="3.1"/><circle cx="207.4" cy="546.1" r="3.1"/><circle cx="209.4" cy="550.2" r="3.1"/><circle cx="211.4" cy="554.2" r="3.1"/><circle cx="213.4" cy="563.0" r="3.1"/><circle cx="215.4" cy="573.6" r="3.1"/><circle cx="217.4" cy="583.6" r="3.1"/><circle cx="219.4" cy="589.2" r="3.1"/><circle cx="221.4" cy="598.0" r="3.1"/><circle cx="223.3" cy="604.9" r="3.1"/><circle cx="225.3" cy="606.7" r="3.1"/><circle cx="227.3" cy="610.8" r="3.1"/><circle cx="229.3" cy="608.9" r="3.1"/><circle cx="231.3" cy="609.9" r="3.1"/><circle cx="233.3" cy="607.6" r="3.1"/><circle cx="235.3" cy="606.0" r="3.1"/><circle cx="237.3" cy="600.1" r="3.1"/><circle cx="239.3" cy="593.5" r="3.1"/><circle cx="241.3" cy="584.9" r="3.1"/><circle cx="243.3" cy="578.2" r="3.1"/><circle cx="245.2" cy="570.0" r="3.1"/><circle cx="247.2" cy="562.7" r="3.1"/><circle cx="249.2" cy="557.2" r="3.1"/><circle cx="251.2" cy="553.1" r="3.1"/><circle cx="253.2" cy="552.2" r="3.1"/><circle cx="255.2" cy="555.4" r="3.1"/><circle cx="257.2" cy="560.4" r="3.1"/><circle cx="259.2" cy="568.3" r="3.1"/><circle cx="261.2" cy="576.0" r="3.1"/><circle cx="263.2" cy="586.0" r="3.1"/><circle cx="265.1" cy="592.9" r="3.1"/><circle cx="267.1" cy="600.6" r="3.1"/><circle cx="269.1" cy="604.8" r="3.1"/><circle cx="271.1" cy="605.7" r="3.1"/><circle cx="273.1" cy="607.0" r="3.1"/><circle cx="275.1" cy="609.1" r="3.1"/><circle cx="277.1" cy="610.4" r="3.1"/><circle cx="279.1" cy="610.1" r="3.1"/><circle cx="281.1" cy="609.3" r="3.1"/><circle cx="283.1" cy="606.1" r="3.1"/><circle cx="285.1" cy="603.2" r="3.1"/><circle cx="287.0" cy="595.0" r="3.1"/><circle cx="289.0" cy="585.4" r="3.1"/><circle cx="291.0" cy="571.3" r="3.1"/><circle cx="293.0" cy="563.0" r="3.1"/><circle cx="295.0" cy="557.2" r="3.1"/><circle cx="297.0" cy="554.9" r="3.1"/><circle cx="299.0" cy="552.5" r="3.1"/><circle cx="301.0" cy="554.5" r="3.1"/><circle cx="303.0" cy="555.9" r="3.1"/><circle cx="305.0" cy="563.1" r="3.1"/><circle cx="307.0" cy="567.9" r="3.1"/><circle cx="308.9" cy="577.6" r="3.1"/><circle cx="310.9" cy="586.1" r="3.1"/><circle cx="312.9" cy="595.0" r="3.1"/><circle cx="314.9" cy="598.5" r="3.1"/><circle cx="316.9" cy="604.5" r="3.1"/></g>
<g fill="none" stroke="#00f000" stroke-width="2.2"><circle cx="79.5" cy="578.8" r="3.1"/><circle cx="80.0" cy="575.8" r="3.1"/><circle cx="80.6" cy="576.4" r="3.1"/><circle cx="81.1" cy="576.7" r="3.1"/><circle cx="81.7" cy="578.0" r="3.1"/><circle cx="82.2" cy="578.9" r="3.1"/><circle cx="82.8" cy="580.8" r="3.1"/><circle cx="83.3" cy="578.0" r="3.1"/><circle cx="83.9" cy="579.4" r="3.1"/><circle cx="84.4" cy="578.8" r="3.1"/><circle cx="85.0" cy="581.0" r="3.1"/><circle cx="85.5" cy="579.8" r="3.1"/><circle cx="86.1" cy="580.7" r="3.1"/><circle cx="86.6" cy="577.7" r="3.1"/><circle cx="87.2" cy="579.0" r="3.1"/><circle cx="87.7" cy="578.3" r="3.1"/><circle cx="88.3" cy="581.4" r="3.1"/><circle cx="88.8" cy="580.5" r="3.1"/><circle cx="89.4" cy="579.4" r="3.1"/><circle cx="89.9" cy="579.3" r="3.1"/><circle cx="90.5" cy="580.6" r="3.1"/><circle cx="91.0" cy="579.2" r="3.1"/><circle cx="91.6" cy="579.1" r="3.1"/><circle cx="92.1" cy="581.0" r="3.1"/><circle cx="92.7" cy="583.7" r="3.1"/><circle cx="93.2" cy="580.4" r="3.1"/><circle cx="93.8" cy="580.1" r="3.1"/><circle cx="94.3" cy="579.4" r="3.1"/><circle cx="94.9" cy="579.4" r="3.1"/><circle cx="95.4" cy="582.0" r="3.1"/><circle cx="96.0" cy="582.6" r="3.1"/><circle cx="96.5" cy="581.7" r="3.1"/><circle cx="97.1" cy="582.3" r="3.1"/><circle cx="97.6" cy="582.2" r="3.1"/><circle cx="98.2" cy="582.4" r="3.1"/><circle cx="98.7" cy="580.5" r="3.1"/><circle cx="99.3" cy="582.1" r="3.1"/><circle cx="99.8" cy="583.0" r="3.1"/><circle cx="100.4" cy="582.0" r="3.1"/><circle cx="100.9" cy="582.6" r="3.1"/><circle cx="101.5" cy="582.4" r="3.1"/><circle cx="102.0" cy="583.2" r="3.1"/><circle cx="102.6" cy="584.9" r="3.1"/><circle cx="103.1" cy="583.5" r="3.1"/><circle cx="103.7" cy="584.0" r="3.1"/><circle cx="104.2" cy="585.5" r="3.1"/><circle cx="104.8" cy="585.4" r="3.1"/><circle cx="105.3" cy="587.0" r="3.1"/><circle cx="105.9" cy="582.3" r="3.1"/><circle cx="106.4" cy="586.3" r="3.1"/><circle cx="107.0" cy="584.7" r="3.1"/><circle cx="107.5" cy="585.7" r="3.1"/><circle cx="108.1" cy="586.8" r="3.1"/><circle cx="108.6" cy="587.3" r="3.1"/><circle cx="109.2" cy="587.5" r="3.1"/><circle cx="109.7" cy="586.5" r="3.1"/><circle cx="110.3" cy="588.6" r="3.1"/><circle cx="110.8" cy="586.3" r="3.1"/><circle cx="111.4" cy="586.7" r="3.1"/><circle cx="111.9" cy="588.1" r="3.1"/><circle cx="112.5" cy="586.6" r="3.1"/><circle cx="113.0" cy="590.0" r="3.1"/><circle cx="113.6" cy="588.1" r="3.1"/><circle cx="114.1" cy="589.1" r="3.1"/><circle cx="114.7" cy="585.8" r="3.1"/><circle cx="115.2" cy="584.9" r="3.1"/><circle cx="115.8" cy="585.2" r="3.1"/><circle cx="116.3" cy="585.5" r="3.1"/><circle cx="116.9" cy="583.4" r="3.1"/><circle cx="117.4" cy="584.2" r="3.1"/><circle cx="118.0" cy="583.2" r="3.1"/><circle cx="118.5" cy="584.9" r="3.1"/><circle cx="119.1" cy="581.5" r="3.1"/><circle cx="119.6" cy="583.3" r="3.1"/><circle cx="120.2" cy="580.6" r="3.1"/><circle cx="120.7" cy="579.8" r="3.1"/><circle cx="121.3" cy="579.7" r="3.1"/><circle cx="121.8" cy="578.6" r="3.1"/><circle cx="122.4" cy="579.9" r="3.1"/><circle cx="122.9" cy="580.6" r="3.1"/><circle cx="123.5" cy="579.0" r="3.1"/><circle cx="124.0" cy="579.2" r="3.1"/><circle cx="124.6" cy="580.1" r="3.1"/><circle cx="125.1" cy="577.9" r="3.1"/><circle cx="125.7" cy="577.3" r="3.1"/><circle cx="126.2" cy="576.3" r="3.1"/><circle cx="126.8" cy="574.1" r="3.1"/><circle cx="127.3" cy="576.7" r="3.1"/><circle cx="127.9" cy="573.8" r="3.1"/><circle cx="128.4" cy="577.3" r="3.1"/><circle cx="129.0" cy="576.8" r="3.1"/><circle cx="129.5" cy="578.7" r="3.1"/><circle cx="130.1" cy="577.5" r="3.1"/><circle cx="130.6" cy="576.9" r="3.1"/><circle cx="131.2" cy="578.9" r="3.1"/><circle cx="131.7" cy="578.1" r="3.1"/><circle cx="132.3" cy="578.9" r="3.1"/><circle cx="132.8" cy="579.6" r="3.1"/><circle cx="133.4" cy="579.8" r="3.1"/><circle cx="133.9" cy="580.1" r="3.1"/><circle cx="134.5" cy="579.7" r="3.1"/><circle cx="135.0" cy="580.9" r="3.1"/><circle cx="135.6" cy="578.7" r="3.1"/><circle cx="136.1" cy="581.7" r="3.1"/><circle cx="136.7" cy="580.8" r="3.1"/><circle cx="137.2" cy="584.2" r="3.1"/><circle cx="137.8" cy="584.7" r="3.1"/><circle cx="138.3" cy="580.9" r="3.1"/><circle cx="138.9" cy="584.1" r="3.1"/><circle cx="139.4" cy="584.1" r="3.1"/><circle cx="140.0" cy="583.3" r="3.1"/><circle cx="140.5" cy="585.7" r="3.1"/><circle cx="141.1" cy="584.6" r="3.1"/><circle cx="141.6" cy="583.2" r="3.1"/><circle cx="142.2" cy="585.4" r="3.1"/><circle cx="142.7" cy="585.8" r="3.1"/><circle cx="143.3" cy="586.4" r="3.1"/><circle cx="143.8" cy="585.0" r="3.1"/><circle cx="144.4" cy="587.6" r="3.1"/><circle cx="144.9" cy="588.1" r="3.1"/><circle cx="145.5" cy="585.9" r="3.1"/><circle cx="146.0" cy="586.8" r="3.1"/><circle cx="146.6" cy="587.8" r="3.1"/><circle cx="147.1" cy="587.4" r="3.1"/><circle cx="147.7" cy="590.7" r="3.1"/><circle cx="148.2" cy="589.0" r="3.1"/><circle cx="148.8" cy="587.7" r="3.1"/><circle cx="149.3" cy="588.2" r="3.1"/><circle cx="149.9" cy="589.4" r="3.1"/><circle cx="150.4" cy="592.7" r="3.1"/><circle cx="151.0" cy="589.8" r="3.1"/><circle cx="151.5" cy="590.5" r="3.1"/><circle cx="152.1" cy="591.2" r="3.1"/><circle cx="152.6" cy="590.8" r="3.1"/><circle cx="153.2" cy="593.9" r="3.1"/><circle cx="153.7" cy="590.1" r="3.1"/><circle cx="154.3" cy="591.6" r="3.1"/><circle cx="154.8" cy="590.7" r="3.1"/><circle cx="155.4" cy="591.1" r="3.1"/><circle cx="155.9" cy="588.6" r="3.1"/><circle cx="156.5" cy="592.2" r="3.1"/><circle cx="157.0" cy="589.6" r="3.1"/><circle cx="157.6" cy="589.7" r="3.1"/><circle cx="158.1" cy="588.2" r="3.1"/><circle cx="158.7" cy="588.3" r="3.1"/><circle cx="159.2" cy="589.8" r="3.1"/><circle cx="159.8" cy="590.2" r="3.1"/><circle cx="160.3" cy="589.8" r="3.1"/><circle cx="160.9" cy="590.2" r="3.1"/><circle cx="161.4" cy="589.4" r="3.1"/><circle cx="162.0" cy="588.3" r="3.1"/><circle cx="162.5" cy="589.2" r="3.1"/><circle cx="163.1" cy="588.7" r="3.1"/><circle cx="163.6" cy="587.7" r="3.1"/><circle cx="164.2" cy="588.6" r="3.1"/><circle cx="164.7" cy="589.1" r="3.1"/><circle cx="165.3" cy="587.6" r="3.1"/><circle cx="165.8" cy="586.7" r="3.1"/><circle cx="166.4" cy="587.9" r="3.1"/><circle cx="166.9" cy="589.3" r="3.1"/><circle cx="167.5" cy="586.4" r="3.1"/><circle cx="168.0" cy="586.4" r="3.1"/><circle cx="168.6" cy="586.2" r="3.1"/><circle cx="169.1" cy="587.8" r="3.1"/><circle cx="169.7" cy="583.7" r="3.1"/><circle cx="170.2" cy="586.4" r="3.1"/><circle cx="170.8" cy="587.4" r="3.1"/><circle cx="171.3" cy="584.6" r="3.1"/><circle cx="171.9" cy="587.5" r="3.1"/><circle cx="172.4" cy="586.1" r="3.1"/><circle cx="173.0" cy="584.6" r="3.1"/><circle cx="173.5" cy="585.4" r="3.1"/><circle cx="174.1" cy="583.0" r="3.1"/><circle cx="174.6" cy="584.1" r="3.1"/><circle cx="175.2" cy="587.1" r="3.1"/><circle cx="175.7" cy="583.4" r="3.1"/><circle cx="176.3" cy="586.9" r="3.1"/><circle cx="176.8" cy="584.2" r="3.1"/><circle cx="177.4" cy="585.5" r="3.1"/><circle cx="177.9" cy="584.1" r="3.1"/><circle cx="178.5" cy="581.0" r="3.1"/><circle cx="179.0" cy="583.0" r="3.1"/><circle cx="179.6" cy="583.9" r="3.1"/><circle cx="180.1" cy="582.0" r="3.1"/><circle cx="180.7" cy="581.6" r="3.1"/><circle cx="181.2" cy="583.7" r="3.1"/><circle cx="181.8" cy="582.3" r="3.1"/><circle cx="182.3" cy="580.9" r="3.1"/><circle cx="182.9" cy="582.6" r="3.1"/><circle cx="183.4" cy="584.9" r="3.1"/><circle cx="184.0" cy="583.5" r="3.1"/><circle cx="184.5" cy="585.7" r="3.1"/><circle cx="185.1" cy="586.8" r="3.1"/><circle cx="185.6" cy="585.3" r="3.1"/><circle cx="186.2" cy="584.1" r="3.1"/><circle cx="186.7" cy="584.2" r="3.1"/><circle cx="187.3" cy="586.2" r="3.1"/><circle cx="187.8" cy="587.8" r="3.1"/><circle cx="188.4" cy="587.3" r="3.1"/><circle cx="188.9" cy="588.1" r="3.1"/><circle cx="189.5" cy="587.1" r="3.1"/><circle cx="190.0" cy="588.4" r="3.1"/><circle cx="190.6" cy="587.8" r="3.1"/><circle cx="191.1" cy="588.3" r="3.1"/><circle cx="191.7" cy="587.4" r="3.1"/><circle cx="192.2" cy="587.4" r="3.1"/><circle cx="192.8" cy="589.2" r="3.1"/><circle cx="193.3" cy="588.7" r="3.1"/><circle cx="193.9" cy="589.3" r="3.1"/><circle cx="194.4" cy="591.7" r="3.1"/><circle cx="195.0" cy="591.1" r="3.1"/><circle cx="195.5" cy="595.4" r="3.1"/><circle cx="196.1" cy="593.1" r="3.1"/><circle cx="196.6" cy="591.5" r="3.1"/><circle cx="197.2" cy="593.7" r="3.1"/><circle cx="197.7" cy="593.5" r="3.1"/><circle cx="198.3" cy="592.5" r="3.1"/><circle cx="198.8" cy="595.1" r="3.1"/><circle cx="199.4" cy="593.0" r="3.1"/><circle cx="199.9" cy="590.4" r="3.1"/><circle cx="200.5" cy="595.6" r="3.1"/><circle cx="201.0" cy="593.4" r="3.1"/><circle cx="201.6" cy="595.6" r="3.1"/><circle cx="202.1" cy="592.4" r="3.1"/><circle cx="202.7" cy="591.2" r="3.1"/><circle cx="203.2" cy="594.3" r="3.1"/><circle cx="203.8" cy="590.4" r="3.1"/><circle cx="204.3" cy="591.6" r="3.1"/><circle cx="204.9" cy="592.8" r="3.1"/><circle cx="205.4" cy="590.6" r="3.1"/><circle cx="206.0" cy="589.9" r="3.1"/><circle cx="206.5" cy="589.7" r="3.1"/><circle cx="207.1" cy="590.2" r="3.1"/><circle cx="207.6" cy="587.6" r="3.1"/><circle cx="208.2" cy="588.9" r="3.1"/><circle cx="208.7" cy="588.4" r="3.1"/><circle cx="209.3" cy="590.2" r="3.1"/><circle cx="209.8" cy="586.3" r="3.1"/><circle cx="210.4" cy="585.1" r="3.1"/><circle cx="210.9" cy="586.8" r="3.1"/><circle cx="211.5" cy="584.8" r="3.1"/><circle cx="212.0" cy="585.3" r="3.1"/><circle cx="212.6" cy="584.6" r="3.1"/><circle cx="213.1" cy="585.5" r="3.1"/><circle cx="213.7" cy="582.7" r="3.1"/><circle cx="214.2" cy="582.9" r="3.1"/><circle cx="214.8" cy="579.3" r="3.1"/><circle cx="215.3" cy="581.0" r="3.1"/><circle cx="215.9" cy="583.7" r="3.1"/><circle cx="216.4" cy="580.3" r="3.1"/><circle cx="217.0" cy="579.8" r="3.1"/><circle cx="217.5" cy="578.7" r="3.1"/><circle cx="218.1" cy="580.6" r="3.1"/><circle cx="218.6" cy="579.6" r="3.1"/><circle cx="219.2" cy="577.9" r="3.1"/><circle cx="219.7" cy="580.4" r="3.1"/><circle cx="220.3" cy="580.0" r="3.1"/><circle cx="220.8" cy="580.7" r="3.1"/><circle cx="221.4" cy="579.0" r="3.1"/><circle cx="221.9" cy="582.2" r="3.1"/><circle cx="222.5" cy="580.6" r="3.1"/><circle cx="223.0" cy="580.0" r="3.1"/><circle cx="223.6" cy="579.6" r="3.1"/><circle cx="224.1" cy="580.1" r="3.1"/><circle cx="224.7" cy="581.6" r="3.1"/><circle cx="225.2" cy="580.3" r="3.1"/><circle cx="225.8" cy="582.1" r="3.1"/><circle cx="226.3" cy="581.6" r="3.1"/><circle cx="226.9" cy="582.7" r="3.1"/><circle cx="227.4" cy="582.1" r="3.1"/><circle cx="228.0" cy="581.1" r="3.1"/><circle cx="228.5" cy="578.8" r="3.1"/><circle cx="229.1" cy="581.8" r="3.1"/><circle cx="229.6" cy="582.5" r="3.1"/><circle cx="230.2" cy="581.8" r="3.1"/><circle cx="230.7" cy="582.5" r="3.1"/><circle cx="231.3" cy="581.2" r="3.1"/><circle cx="231.8" cy="581.5" r="3.1"/><circle cx="232.4" cy="580.8" r="3.1"/><circle cx="232.9" cy="584.0" r="3.1"/><circle cx="233.5" cy="582.5" r="3.1"/><circle cx="234.0" cy="581.8" r="3.1"/><circle cx="234.6" cy="580.8" r="3.1"/><circle cx="235.1" cy="582.4" r="3.1"/><circle cx="235.7" cy="584.6" r="3.1"/><circle cx="236.2" cy="583.4" r="3.1"/><circle cx="236.8" cy="582.0" r="3.1"/><circle cx="237.3" cy="584.9" r="3.1"/><circle cx="237.9" cy="585.0" r="3.1"/><circle cx="238.4" cy="584.5" r="3.1"/><circle cx="239.0" cy="584.3" r="3.1"/><circle cx="239.5" cy="584.8" r="3.1"/><circle cx="240.1" cy="584.1" r="3.1"/><circle cx="240.6" cy="584.5" r="3.1"/><circle cx="241.2" cy="582.5" r="3.1"/><circle cx="241.7" cy="585.5" r="3.1"/><circle cx="242.3" cy="584.0" r="3.1"/><circle cx="242.8" cy="586.4" r="3.1"/><circle cx="243.4" cy="581.1" r="3.1"/><circle cx="243.9" cy="584.8" r="3.1"/><circle cx="244.5" cy="585.2" r="3.1"/><circle cx="245.0" cy="583.6" r="3.1"/><circle cx="245.6" cy="584.7" r="3.1"/><circle cx="246.1" cy="585.1" r="3.1"/><circle cx="246.7" cy="585.0" r="3.1"/><circle cx="247.2" cy="583.6" r="3.1"/><circle cx="247.8" cy="584.2" r="3.1"/><circle cx="248.3" cy="585.7" r="3.1"/><circle cx="248.9" cy="586.1" r="3.1"/><circle cx="249.4" cy="584.7" r="3.1"/><circle cx="250.0" cy="584.7" r="3.1"/><circle cx="250.5" cy="584.9" r="3.1"/><circle cx="251.1" cy="586.1" r="3.1"/><circle cx="251.6" cy="583.4" r="3.1"/><circle cx="252.2" cy="582.9" r="3.1"/><circle cx="252.7" cy="584.6" r="3.1"/><circle cx="253.3" cy="582.8" r="3.1"/><circle cx="253.8" cy="583.3" r="3.1"/><circle cx="254.4" cy="584.0" r="3.1"/><circle cx="254.9" cy="584.4" r="3.1"/><circle cx="255.5" cy="582.2" r="3.1"/><circle cx="256.0" cy="584.5" r="3.1"/><circle cx="256.6" cy="581.0" r="3.1"/><circle cx="257.1" cy="583.8" r="3.1"/><circle cx="257.7" cy="580.9" r="3.1"/><circle cx="258.2" cy="581.1" r="3.1"/><circle cx="258.8" cy="583.4" r="3.1"/><circle cx="259.3" cy="581.9" r="3.1"/><circle cx="259.9" cy="581.2" r="3.1"/><circle cx="260.4" cy="581.5" r="3.1"/><circle cx="261.0" cy="582.5" r="3.1"/><circle cx="261.5" cy="581.7" r="3.1"/><circle cx="262.1" cy="581.6" r="3.1"/><circle cx="262.6" cy="582.8" r="3.1"/><circle cx="263.2" cy="580.4" r="3.1"/><circle cx="263.7" cy="580.5" r="3.1"/><circle cx="264.3" cy="580.3" r="3.1"/><circle cx="264.8" cy="582.3" r="3.1"/><circle cx="265.4" cy="581.9" r="3.1"/><circle cx="265.9" cy="582.1" r="3.1"/><circle cx="266.5" cy="580.2" r="3.1"/><circle cx="267.0" cy="579.9" r="3.1"/><circle cx="267.6" cy="581.1" r="3.1"/><circle cx="268.1" cy="579.3" r="3.1"/><circle cx="268.7" cy="580.7" r="3.1"/><circle cx="269.2" cy="580.4" r="3.1"/><circle cx="269.8" cy="578.4" r="3.1"/><circle cx="270.3" cy="579.5" r="3.1"/><circle cx="270.9" cy="579.8" r="3.1"/><circle cx="271.4" cy="582.6" r="3.1"/><circle cx="272.0" cy="584.1" r="3.1"/><circle cx="272.5" cy="580.9" r="3.1"/><circle cx="273.1" cy="581.4" r="3.1"/><circle cx="273.6" cy="578.8" r="3.1"/><circle cx="274.2" cy="582.3" r="3.1"/><circle cx="274.7" cy="582.4" r="3.1"/><circle cx="275.3" cy="581.4" r="3.1"/><circle cx="275.8" cy="584.1" r="3.1"/><circle cx="276.4" cy="581.4" r="3.1"/><circle cx="276.9" cy="583.5" r="3.1"/><circle cx="277.5" cy="584.3" r="3.1"/><circle cx="278.0" cy="582.9" r="3.1"/><circle cx="278.6" cy="586.0" r="3.1"/><circle cx="279.1" cy="586.6" r="3.1"/><circle cx="279.7" cy="583.7" r="3.1"/><circle cx="280.2" cy="584.1" r="3.1"/><circle cx="280.8" cy="587.0" r="3.1"/><circle cx="281.3" cy="586.5" r="3.1"/><circle cx="281.9" cy="585.3" r="3.1"/><circle cx="282.4" cy="586.9" r="3.1"/><circle cx="283.0" cy="587.5" r="3.1"/><circle cx="283.5" cy="587.8" r="3.1"/><circle cx="284.1" cy="589.4" r="3.1"/><circle cx="284.6" cy="588.9" r="3.1"/><circle cx="285.2" cy="590.6" r="3.1"/><circle cx="285.7" cy="589.9" r="3.1"/><circle cx="286.3" cy="588.9" r="3.1"/><circle cx="286.8" cy="589.3" r="3.1"/><circle cx="287.4" cy="589.5" r="3.1"/><circle cx="287.9" cy="588.5" r="3.1"/><circle cx="288.5" cy="585.9" r="3.1"/><circle cx="289.0" cy="588.4" r="3.1"/><circle cx="289.6" cy="587.3" r="3.1"/><circle cx="290.1" cy="589.1" r="3.1"/><circle cx="290.7" cy="587.0" r="3.1"/><circle cx="291.2" cy="587.4" r="3.1"/><circle cx="291.8" cy="587.1" r="3.1"/><circle cx="292.3" cy="588.7" r="3.1"/><circle cx="292.9" cy="586.6" r="3.1"/><circle cx="293.4" cy="585.9" r="3.1"/><circle cx="294.0" cy="586.5" r="3.1"/><circle cx="294.5" cy="585.4" r="3.1"/><circle cx="295.1" cy="586.0" r="3.1"/><circle cx="295.6" cy="585.6" r="3.1"/><circle cx="296.2" cy="585.9" r="3.1"/><circle cx="296.7" cy="587.9" r="3.1"/><circle cx="297.3" cy="584.7" r="3.1"/><circle cx="297.8" cy="585.1" r="3.1"/><circle cx="298.4" cy="584.7" r="3.1"/><circle cx="298.9" cy="585.7" r="3.1"/><circle cx="299.5" cy="583.0" r="3.1"/><circle cx="300.0" cy="583.3" r="3.1"/><circle cx="300.6" cy="583.8" r="3.1"/><circle cx="301.1" cy="584.2" r="3.1"/><circle cx="301.7" cy="583.1" r="3.1"/><circle cx="302.2" cy="582.2" r="3.1"/><circle cx="302.8" cy="581.4" r="3.1"/><circle cx="303.3" cy="582.9" r="3.1"/><circle cx="303.9" cy="583.7" r="3.1"/><circle cx="304.4" cy="582.0" r="3.1"/><circle cx="305.0" cy="581.5" r="3.1"/><circle cx="305.5" cy="581.5" r="3.1"/><circle cx="306.1" cy="579.3" r="3.1"/><circle cx="306.6" cy="579.8" r="3.1"/><circle cx="307.2" cy="579.5" r="3.1"/><circle cx="307.7" cy="579.9" r="3.1"/><circle cx="308.3" cy="579.2" r="3.1"/><circle cx="308.8" cy="577.3" r="3.1"/><circle cx="309.4" cy="580.0" r="3.1"/><circle cx="309.9" cy="580.4" r="3.1"/><circle cx="310.5" cy="577.6" r="3.1"/><circle cx="311.0" cy="578.1" r="3.1"/><circle cx="311.6" cy="577.6" r="3.1"/><circle cx="312.1" cy="577.9" r="3.1"/><circle cx="312.7" cy="574.7" r="3.1"/><circle cx="313.2" cy="578.4" r="3.1"/><circle cx="313.8" cy="575.3" r="3.1"/><circle cx="314.3" cy="577.3" r="3.1"/><circle cx="314.9" cy="575.4" r="3.1"/><circle cx="315.4" cy="574.4" r="3.1"/><circle cx="316.0" cy="574.4" r="3.1"/><circle cx="316.5" cy="575.5" r="3.1"/><circle cx="317.1" cy="572.8" r="3.1"/><circle cx="317.6" cy="573.3" r="3.1"/><circle cx="318.2" cy="573.0" r="3.1"/><circle cx="318.7" cy="571.2" r="3.1"/><circle cx="319.3" cy="574.9" r="3.1"/></g>
<text x="33.8" y="542.4" font-size="22" fill="#262626" textLength="42.4" lengthAdjust="spacingAndGlyphs">11.2</text>
<text x="75.8" y="612.4" font-size="22" text-anchor="end" fill="#262626">11</text>
<text x="84" y="686.8" font-size="23" text-anchor="middle" fill="#262626">0</text>
<text x="201" y="686.8" font-size="23" text-anchor="middle" fill="#262626">5</text>
<text x="318" y="686.8" font-size="23" text-anchor="middle" fill="#262626">10</text>
<text x="155" y="720.6" font-size="25" fill="#262626" textLength="92.5" lengthAdjust="spacingAndGlyphs">Time (s)</text>
<text transform="translate(20.8,651.6) rotate(-90)" font-size="25.5" fill="#262626" textLength="131.5" lengthAdjust="spacingAndGlyphs">Freq. (kHz)</text>
<text x="54.5" y="507.5" font-size="21" font-weight="bold" fill="#000" textLength="28" lengthAdjust="spacingAndGlyphs">(d)</text>
<text x="132" y="544.3" font-size="24" font-weight="bold" fill="#1010f0">a</text>
<text x="186.5" y="546.3" font-size="23" font-weight="bold" fill="#f03c3c">b</text>
<text x="62" y="581.9" font-size="24" font-weight="bold" fill="#00b050">c</text>
<rect x="404.8" y="518.2" width="232.99999999999994" height="135.89999999999998" fill="none" stroke="#3a3a3a" stroke-width="1.4"/>
<g stroke="#3a3a3a" stroke-width="1.2"><line x1="404.8" y1="587.4" x2="407.3" y2="587.4"/><line x1="637.8" y1="587.4" x2="635.3" y2="587.4"/><line x1="556.5" y1="654.1" x2="556.5" y2="651.6"/><line x1="556.5" y1="518.2" x2="556.5" y2="520.7"/></g>
<text x="396.2" y="526.6" font-size="21.5" text-anchor="end" fill="#262626">40</text>
<text x="396.2" y="595.2" font-size="21.5" text-anchor="end" fill="#262626">20</text>
<text x="396.2" y="665.4" font-size="21.5" text-anchor="end" fill="#262626">0</text>
<text x="403.5" y="686" font-size="23" text-anchor="middle" fill="#262626">0</text>
<text x="556.5" y="686" font-size="23" text-anchor="middle" fill="#262626">1</text>
<text x="360" y="720.7" font-size="25" fill="#262626" textLength="322.5" lengthAdjust="spacingAndGlyphs">Driven electric field (mV/cm)</text>
<text x="595.3" y="500.5" font-size="21" font-weight="bold" fill="#000" textLength="27.8" lengthAdjust="spacingAndGlyphs">(e)</text>
<line x1="427.0" y1="633.9" x2="638.4" y2="534.6" stroke="#000" stroke-width="3"/>
<g stroke="#1f78c8" stroke-width="2.8"><line x1="427.0" y1="623.5" x2="427.0" y2="644.0"/><line x1="416.0" y1="623.5" x2="438.0" y2="623.5"/><line x1="416.0" y1="644.0" x2="438.0" y2="644.0"/><line x1="521.6" y1="582.4" x2="521.6" y2="600.3"/><line x1="510.6" y1="582.4" x2="532.6" y2="582.4"/><line x1="510.6" y1="600.3" x2="532.6" y2="600.3"/><line x1="638.4" y1="519.4" x2="638.4" y2="550.2"/><line x1="627.4" y1="519.4" x2="649.4" y2="519.4"/><line x1="627.4" y1="550.2" x2="649.4" y2="550.2"/></g>
<line x1="427.0" y1="633.9" x2="638.4" y2="534.6" stroke="#000" stroke-width="3"/>
<circle cx="427.0" cy="633.9" r="6.3" fill="#0000ff" stroke="#ff0000" stroke-width="3"/>
<circle cx="521.6" cy="591.4" r="6.3" fill="#0000ff" stroke="#ff0000" stroke-width="3"/>
<circle cx="638.4" cy="534.6" r="6.3" fill="#0000ff" stroke="#ff0000" stroke-width="3"/>
<line x1="427.0" y1="633.9" x2="638.4" y2="534.6" stroke="#000" stroke-width="2.6"/>
<text x="422.5" y="554.1" font-size="22" font-style="italic" fill="#777" font-family="Liberation Serif">β</text>
<text x="442" y="554.1" font-size="20.5" fill="#262626" textLength="143" lengthAdjust="spacingAndGlyphs">~ 20.8 E + 2.9</text>
<text transform="translate(362,618.5) rotate(-90)" font-size="25" font-style="italic" fill="#777" font-family="Liberation Serif">β</text>
<text transform="translate(360.3,593.2) rotate(-90)" font-size="24.5" fill="#444" textLength="37.6" lengthAdjust="spacingAndGlyphs">(%)</text>
</svg></div>
<script>
(function(){
var S=[{"l":77.5,"t":2.0,"w":461.3,"h":135.6,"nx":154,"ny":45,"d":"AAAACAAAAAABBACEHNPPLIJHJICAAJDAAGHAFFAFKAAAAAAAADAAAADFAAAACAAIICEDAAAAAAAAGEAAAABBAAAGCANGAAAEEDBBAAAAAAAAAAAAACCAAAAAFGFAADFACBAAAAACBAACAAAAADIHCCAAAAAAAAFIGFCHRPPQQRRNLQQPOAEGGCAAAAAAAAAAAAAACAAAAAAAAAAAAAAAEHAAKIABDAAAAAADHAAAAADIJHAABAAAAAFADFHAAAAAABDEMJAJKFAAAFMNLFACCAAAAAAGJGAAAABHAKPAAAGDMCKOFGDAAAAEDIKAAIMIGQYWVRNNQSQJCAAAADEBOLAAAGJEAAAAAABAAGNNAAAFOLAAAGIEEAFJIAABAABLIADGAFMIABAADAAAAAAAINGAACKHCAAAAAAAAAAGBAADJAAAGAAAAAAAAAAAAADDACKJCDJKJDAAEAIAACKKAACHLSRPVXbXVbaUNTPLJNJCDCAAACGAAFDFIJAAAAABAADDDAACAABJJGABAAAABCHKGAAADPHACFACAABBAAAAFGAAAAAAAAAAAAAAAAGGDABAAAAABJABAAABAAAAAAIFKLKGAIIMLFFBABAIAADAAACFCHJOXTahmiZfdXWXRQKMFIKFAAHDHAACAAAAAAAGHAAEAAAABAAAAAENMPSLAABAAAACEKIJEAAAAAEKKKMJFFCAJKIAAAAAFFGAAAAAAJEAAAIQFAAEGBAAAIFABACAAAAAEGFFILNNJCADAAAAAAAAAABHNSbUcklinnljgaZYULOLJCDFHCBAAAFJAGHIHAAJKKJJIHEAAGFABAAAAAAAABAAAAABEFAAAFKFGROJGJGAAAAAHCBAAHEHGBDAFHAAHFCAAAAAAAAAAADGAAAAIAAAEDHGQMQRRPSNEFCFFAAAABECHMLPQcjkpnuupicbXcZYVUSNAEAAAAAAAADABBAAAACBHFAAAAADACFEAAACMKABACGBAHLOLDJOSQMJLPPNOKICGFAAAAFBAFDFAAANAADAACMIAAAAIJAAFIKFAEKBAFHMOPQVaeaVVSMGJKAHIBFFELJORTafoqqrwvvsnqmeWQMLMHGCBBAAAAEDACKMMKDHIJDABKMJAABAAAAAAAAABADGOIKLJLJFDHNTWYbUPRRMGCFFAAAAAAAAAHBAAACAAHGGLECABACHADCEECAABDDKBNQPMPVUZdUTQSQPAAAEHHAGQbccegit51341qqoicSWXULMLIDAAEKKIFEDJLJMMKIMJHHIEJJKPKKKBAAAAAJKDGLEMPOGOJLOTZaVSKIKQPHCEJDIBAAAAAJJGCAECKPRQRRKGKGAAAAAHIAAAELOMKJWUWVbfligVWSXWXBABGIKRYYYclkpw043x0331qmphheVRLKMGFLLCBJCEEEMOMKKSVTOOTSJNQLHGFGAAAAAIIFFKNOTWVXSQTVfkkjgdXSLCBAEDBAACAIGAFJMJGNORSUTVWTRNFAACBACAAADEHPRYaVYYfhmkldccabdAAAAIJKTcijorx741qqps04zorqhgZWQJKGECGJHIFJRTTWbbbTSWUUUXXQQPFEBAAAJFACEDLOLVfiaXbYbhekpkaaYUTQPIEAAAAACHLMJNSUVUVafdZWNPQHFCDBCAAABIMKRSUbdYhmqtwroonouvvBAAADOPUbhigr87ynhdkls366qhmfbXSIALMQKOSQSTQXbWYaZhhSWRTVTXXTOQLFAAEIBAALPTXXZgjmmjjlstsmgaabcQLQJBAAAADFLGGIALUXRUXXXfgdRPMGGHFHEICHMMTXagaPdmrv97451z0zwLIGMRTWYbopu0x2woaVZbmr38yugfXPMIHELOPPUXceaflghmoggjjeYabZWbVMHJJHCLJDHKOMPZdijpwqelqspnmoYZhcRJKAAAIBADJMQYaeebcghiljfdaXSROJKNOIBLMNNWfiinknu14zy373yx6EAHGSRZegiou96ijfbLSadhbyzooaSPMJBAJKTYbadihhmqotvsvrliffcYQPNRNJDEACJKJLSUfllnvxpz57460lqjncbeTIRNIHJFDBLORXdVilmdieenbbdaZVRMIHGMONMSXefkspm31xjmsv22zz6ACGJLPViojrtskhZZXQSQYmpl1xrfcWNJIAMPYdddcmoqvv3wjtvolmssspgYWMJJHIICEMSXZalihfj155153z2ssmjnaVMNMGPJAEORVedhlmlhlqrw0wqjaYWcXQONKAAMQTWegiom56wphXjqpktwuAHOPSQafnr31tnhbLEHLPUblz1tljdUSLFARcbZaisutr8/7t5671t44uqgigXSROLLLKKMIOSXZipy70x0tkhm11uqplhaSNNNLGCIQQNZiosrw14236xvrqmdedaYVPKGEPVaTcnwqx1xhbjigigagcfADJPRVScw282tgYSOFDHERcfq50tphbTJCGRWbjglrqs383lmttvvx014ywpdbSRKHHEGFJSSZcmqn10urojibelx1vqnjffTHCJJGIRVYemjhny20y22233xusrgeTPPIEGHLPWgqstuzpkeZTUabWUYfHGGMTXekkuzpibXSJGDHNUair4tskddVSRRXYcegnqzxxtqmmnqstukt46tkpgYVOLGKKLKQUYikq046rlmiiackn00kpljeWNKLPMIRabikqmw87uuskn00yuikiacXSORLMSYfpurxwsodUOFNWcWONRBDBDISgnt24oebWMLKAAJSagmkuyrmkgcQKUaiost11eibdfWadidijmsxqojhZWOOJHJMMITclquw5ukhaYXLUdt72lnkaVPOOJNSXZbdnqt681sicecigk27tllhWWOIJKLXaccei43nbRMLKJSPKLLLIAGSZcdh12sddWQNADKORWZdfm57wmidWWPYiouss31qkXXcTNPSSTcrz4vpjigcUQPMQQSUdjgn41qphXRQPKUipt28zuleMILJOMNUXiqrw2yoeeifZfjnnx0yzqcWRMLGNQQZowyxnbXVPICFGHCAFNGJMQXinu22pfZWNIOLAFGJNNbnv85olggYRbglswuw0ggWTTOLQJOQSbn4+0lsodVNGMUXPacnoo63pkfYSOKMMamr040ynWVSQLOSNVcnxvvyiXPVXVVZahrw86tsgeYVSOQRbnuw4tjgZSLHIHALGDGFPLNSbnr2yhfaPMKFAABFJORWclu4uqmnjbMZoutv79uaUNKILKNPNRYdnu76unfbZUNQVWUdjrryyngcRGFCFINXbo33smdZWQLKNOWUiqp30jfVOOQPPOVbko0slmpjbOHCOWYXo78tkeWOLIDAAHDAGGRTQPcln47updUSLBAEDAEDFTdjmo13trheXWZlqs31ojXUODEFCCBIOVjjx2xnlkiTFRacgfhly5yoiWRPJEEDEUfkv00urhaVSMSUWbcitutpmXJGFHLIMbjqu1wjgfZOGGRUglt1xsnbSQMHIMEAAABAbcXZgit44wqdVJAAACBAAIILJTfq25rqgZSVfkimwgjcUOGFAFDADNUbclt04npkdRRVWekklu26wnjeVMLKFEFPYlw82pqiZTKKPVeklr21ufbVLKIAGLRSbinw0xpghbQGKUgn45trkWNMGGAAAAAHBAdfXUhn44oljdYQDAAAAAADJEObfYy6yngVWaclu34thaQJEGAAAACEGPaip1zppieXMTWZgloqyymYUUSMAEABKQajqvrrjcZTRNQXcfpk2tkiZTOIAAAEDPUcrz85okkaNKVhjp35pijeWPJDAAAAAAABqoolozywllbdSAGMLFAAAAEFLXagt3solbUUXjj24scQSOJAAGAAACGKXcbt63hdWPNTXbafq23umjZPAABAAEDNSZdr21kkeQJKRbkuw36vocbVMAAAACDJSdkov5qfeZTTYchv0vlibWWPJBAAAAAAIFsqrn078wrmhYRNMGAAAGFAEIQajmnuthTUPOfjgnsiZWTMLFEBAGRUPNWjorvrtkcXMPacgkr51ngXRLFCAMIJISZdlkw3tkcYKOWWhgx7zhlcSHGAAAAFLOSYihs62tkdRQgqs4+xjdWWRKFBDAAAAAAD723zv3yummeUSPLNMAADAFONMWgksuvwlZJVipz82mgSOIAAAAAAACMRUbjkq6zmaVRRTXYkz2yrkfVIJJJDIJJNSanw73tlfVNNSXlpxxtqfTPGABGAAACHIVcjqwuyneVZem27vjidTPIMJDHDAALAAAz6zuxwttsndNHIJOLKNDBCHNXdinqu6zqiWRUk51rrlbaSDACFAAAAEGNXfpy7zplXUKZegoxxongUPMKJFAIJHOTYlvv0zkhXNHUcin20hfaUPGBAAAAAAAJPQisw67pbajt596tpbfZQNMPPLGAAAAAHqqruojohaccWWQIDACABFEHRcgjiouyxpibbnrxvrihbXPIAAAACALJOXXXhltuoidTPaasy+0dhdVRJAAAAJJLQTRamr45pheUTWgm37ulXURONGAAAAHFAMNPdiku43uir087vttgTRNLGIIADIHIAECjtuqssmfecVNNLKBBAAHNJPOSaZipsz40nfhoy+xifeaVKOEAAAAAEENOTeist13qfbTTYgy51mYOKABBAAEIIKMSaen18zxmeVTdpy2vphbUMGOJAAAFABLNTSXkpt5qpnpwsliijcRVRMDIMEKIAAAAAailkeadecXRIRNBGCAADDCLTXcknkktxwzjcmz3xrrmfVRJKEAAAAACCKTehqvyyqkgVNbo23urhedTNNAAFKHNLVXVipvy2hddaenxwujhdaPHFMOAAAIAINLVdjqz42yq13zsllfZYWQFDIFDAAAFDAAaafbeidWPORQNEIBADJGEJGIMJhpqqjv05/wk15ypcecVMKCIEAECJQLSXXimkp33pdQQYo44rkebQLGGGHABFDJQUagrv23xqccps21tsmcYPGLOHDAABIINSUVgpxw68ss1rlgcZXSHHGAHECKMAAAAISTcbYZYWWQOPMDCBBAGAAKLKOZaVUmtsuw13u45snigaVVPIHHJIEFDDKVhlnru42heYXju00jhjeZSOAJKBAKRORbhkioy2xjZjt221ywkUQNGEDADGEAADIQSXfkmpu32zvsnfdWPKGCBAEMCAJIHLGASQMPRUSSQPICCEAAEJEAACAGKNUaagnqqv6w04tlhbYWVUNHKHCAAAJJOSQUhrks51neeq2uwsihaVPMOKDCGIQRKQVXhnu2tmksu78xojbXXOHDAAAAAAAGLSZYaghqstyuskmaLJJHEABFBAAALKAAAAOKNLOLGGDKIIIEAAAAAIMQKOONPSVYfflqfv22womjegXPNICAAAAAFOOPTYdlls58tggr3ztshbfXNGGDAABKFJPXfdkqnx15uq62phmjdSPHGAEHCFHAAJRQOSYfknkhplihhbZUQLLIJHAAADADLFAKGGHJOVQFGFAFAAAABIAADIAADFKRRUbfmorssvrmheVVWOKPOEAABAAEMJXehjpx33ypq22yvohdRSNIDLFAAEMNOTehkmsx467700wtkgYVUODHHAEIDBGLOPWYUbdjjkllkmhfYSNKGEAAAAAAAAEAAAAGIILKIKHBAALMHAAAEEACKJKOSRLVgljpslomfjcZbZQJJPNCAAACFFLOIQShsvt00vz79wtlgZSLKLLLIAACBLRPYdfonmp5364wvnehYRNGDHFAAAAAJIHOTVQVdhchedbaaPSQKMLAAKKAALGAAAAAAACHCJGIEBAAAAAAAAAAAAEBALONQRVZZhnkmnokXWRQULLIBDLOAAAFLORUWVipuuy100xtqnlfXUVPMBFLNKELRUScimpsqlhZimjkgfZTJNLAAAAGLLKONKPPTRYcfbYYXTVTUONIDEAAAAAAAAAAAAAAAADABCAAFMJDAAAAAAAAGGFEGHLMTQVeckkfeeYSXVRNHAAACDAAAKLJPNKRYnrqstwqokgjbPPMNMDCACEHDCKUVXVamjlsuvmgfifZSEDHEDDAAAAAAADMMMTZYYbRacZTQNONHADEAAFLIAAAAAAAAFGEHEAADADAAADAAAFAADBACCDGJJKMTWcidcWTYUTTKFHAACAEEAAFFDNUSVdghmoputjicffbZWNHADGGAFEDFHNTTYefefgfjhijdaUQKGAAKKACEAAHIHBFHJMUYZYWRNOMPMKGDGJKFKKCBCALJADAAABAAAAAAAAIFAAHCAHCAAAAFHIPNSbaTPcgjeWOJHEAAKFAADBAAJIMJISYbfmonhfdmnmfYUQJKKGAAAAFABFJOUTRZeZbchecfcZQNHAIEAABHIAAAAKQKHMKMNNMKKAKIACEDHKDADFDEFJMDADGAAAAADADIAAAAAAAAACHGDAAAAAJMLIQNKLORWURNHHFEGFJSOEFAAAAGBENUZcYcefihhcZadYMONKEBAAAAAGELMOJTTTUYbeagicREQRJGIEEADHHAGJAAJCHFAEQSPNOEELHFCAFHCAALGALPJMDAAADAKKAMNCAAAGAAAAFBAAAADMKHGBDAFMLILRSRQKMKAGHIKDAAAAACFAACEKSUXabekhedbZXSPPQNGACHLDAAAABKMJMVTSXbWPUVQMGDLBACGDAAAAAACKKAAAFHKHGGHHJIMIAAAEGAAAACGHAILAAAACAABDCACAAAAAAAAAAACAAAAAAADBADFFKLMQLGIDEMDAAAAAAAAADBHPRNOQJPZaRWWaXNOPLEFAAEAAAAADGAGACFHIKTWYRJMGMKNIBAAAGHAAEMHEJNHEDBCKEEAAFJJFCHEAAAAAIAAAAAAAAAA"},{"l":77.5,"t":155.3,"w":461.4,"h":134.6,"nx":154,"ny":45,"d":"AAAAAAAAAAAAAADKGBAAAFKJBAAAAAAAAAAAAAAAAAAAAJLAAAAAAJIBAAAAAAAAAAAAAAAAEFAIHAAAAAAAKLAAAAAAAAAAAAAAAAAAAAILHAAABNJAAAAAAAAAAAAAAAAAAAAAHIAAAAAANNAAAAAAAAAAAAAAAAAAAAABHJAAAAAALKGAAAAAAAABAAAAAAAAAAHLAAAAAAAKGAAAAAAAAAAAAAAAAAAAFFCABQXVOADKCAAAAACAAAAAAAAAAAAIMJAAAAABJFAAAAAAAAAAAAAAAAAAAAIFAAAAAAGIHAAAAAAAAAAAAAAAAABAAICAALSOAAAFGAAAAAAAAAAAAAAAAAAAHHABDNSMAAOFAAAAAAAAAAAAAAAAEAHFALPSSTUPAFKAAAAAAAAAAAAAAAAACJEAAFMKAAHGAAAAAAAAAAAAAAAAAAAHLAAAGHKNAKEAAAAAAAAAAAAAAAAAAAKJBAPTWXVOAEHEAAAAAAAAAAAAAAAAACIADPTUSPSGEDAAAAAAAAAAAAAAAAAADEMPTBAARTLDGCAAAAAAAAAAAAACAAGKEAQVSUSAAFEAAAAAAAAAAAAAAAAABGEANVSSVTJAGFAAAAAAAAAAAAAAAAAEIGAOQOACTUOAABAAAAAAAAAAAAABCAAFFGSROADPTNBFCAAAAAAAAAAAAAAAAEJKTTAAAAAUSFHGAAAAAAAAAAAAAAACLIARSTCNTRDACAAAAAAAAAAAAAAAAADGDQWYLAALMGLKHDAAAAAAAAAAAAAAADGAJRLAAAAOMMADAAAAAAAAAAAABAAAIKCORKAAAAOPOGEAAAAAAAAAAAAAAACFGUUAACKJFJQNEIEAAAAAAAAAAAAAAEFAIPQAAANPNAFGAAAAAAAAAAAAAAAADHMORACAAHURAHFAAAAAAAAADCAAAAAJGARTAADAAATLECCAAAAAAACAAAAAAACELMLAADAAAKIADHDBAABAAAAAAAAAKGDLLAKhrpbDJIEGFAAAAAAAAAAAAADFAFMLADHFAPQNDEAAAAAAAAAAAAAAAAAGQOAABGEALPIDEAAAAAAAAAAAAAAADBAKOJEMZVKDARRADEAACDAAAAAAAAAEHDNPAHMVRJGDLKDEAAAAAAAAAAAAAADAKNHewzxywjBOMAHEAAAAAAAAAAAAAEBNQBDKPMBAKJFJGAAAAAAAABCAAAABELQAEMNQQQBOPIHHAAAAAAAAAAAAAGHAHOLHivyuuZBDMFAEAAAAAAAAAAAAAECNPEBiusuxnHKMEDDAAAAAAAAAAAFEACHIkruoObvwdJHDDCAAAAADBAAAACAAJNLHgrvujHALFAEGAAAAAAAAAAAAAAALICNpx0wuZAJIAHJAAAAAAAAAAAFGAAMLAguvksvtdINJAGHCAAAAAAAAAIKAALLQswxvrxxoLKCBAAAAAAAAAAAAAAAJLWstbJLMatqLEJACAAAAAAAAAADAAFPMFlwxmvtoHMMBACAAAAAAAAAAAACBIMGoxuxrvytHJMGCGEAAAAAABDAAGCALMIXvyVFIfwugJNIACAAAAAAAAAHIFAILKptqLKNLuwkIGACIFAAAAAAAADBAALLrueNMPRQjtgILFAACAAAAAAACDCAIJFhssOJStwnJQOAAFIAAAAAAAAABAAJJlwyjMJHmvkAHHACIJCGEFFGHHCAAGLNJsseOIMQkzwZHFAADCAAAAAAGFFAAKGfttHLORPRwwRKAAEFFEFAAAFIFAEMMcsrQUWjjWOotZNMABGGAAAAADHDACIJRtvWQOPNsthJNBADIGAAAAAAAIFAAHYrtQLOPOQuuYKJFAFFHIHGBCDEAAAMKAjytRUYWRQkvqGGHAAADGDDGIFAAAMDFrsNRRSTRRoylNLAAAAEIKGKKBAAIRKoshby8430bcqoKNIAAAEIECCFCAALNJnrjTQTUSWvsLMHAAAEGGJFGFEGDACGnvjKNUUSRWqsLLJAAAAAAAAAAAAAHLFYxuSd120sWQrvfGGFAAAAAAAAAAAJLGcsjTdy7+4hVtsKJEAAAAAAAAAAAJMDQvsi432w1+6YrtYKGAAAABCEEAAAHIFkuoRf02uaSgulKLHAAAAAABAAAAACJNuvVYo155xQlspJLIAAAAAAAAAAAIMJFosdby54540WQvuIKFAAABAAAAAADLIGuuTp303583onsQEFAAAAAAAAAAAGEAlud361XRTu3zavnDMLAAAAAAAAAAJIQuuVk45144nWroEJJEAAAAAAAAAAAIHgqcfx76473wRorRJLCCBAAAAAAAECIBepjS46wSc773bkwiGLJAAAAAAAAEHGAkxnt46uXXv98ksqGJJBAAAAAAAAJMFLutq40UNLLS1zlnuYFIHAAAAAAAAHDAqxhX47zaw12ojtnALLEEBADAAAAAEEBnjZ165qXa75ibtoAGGFAAAAAAAIKKAVwvSx3wSKSW193OpnFDLIAAAAAAFHKAHrtg77lVLMSq63sxRDIMPIAAAAAIHGXtrh56VNIJGJV65buqFHMMBCAAAFLICPppP03uYORn73ivwQCIKKAAAAAAAJNKTuq27vRMOPY51RrsVENMKKHMMPROJAGqrbk84PLLLNV15xnqUACGMOKMLNLGAGoxn32iPINPKQy1nvnBAHOPOLIMPMHErtqx3tUYv0slUy7xvygAILNKIKKKHADquft84WNLPWu6zjwrGACKKLJHHGLPNCpts30RLMILQw7zZwrAAAFAAAAEFFACourW34iQfmiLKOy1aprSAAFMIIHDAAAauri65UMVhjdQb72uuYBAAACJIHDAAhvpZy2SkvzvstnR15UqsOABJMLIGGAEcnnl96WPXfXPT46lqshAAAEHJMKJJAANqm14WMLZjeaW43lptjBAAAAAAAABHhwrQv4tRowxtvhPm80pzzTAAABAAAACWsrd34aPnwyxuoMz4ftrGAAAAAAAAAMyuNnzmnzwiPQuwjp2ukpnDAAAAAAAAUzvW14pOkvvyrMW55bsuTAAAADCBDAABpwj4xUfwxz1scd42SqrQCABACABAEZruZe23XowyWiswoU24btxtKAAAGAABX0wgg30Xutscdvvpk3posnLHDAAAAABpugP00XruSCBHQxrT66WtydFAAAAABNrvhs7zTsxsbuvqPv4mctrJCAABAAAAEXwu13Vqz0sclvtQwzrkrnRHLLLOONbtreU37neqpMFIYzxli+0QpvrMMKGDIVqvkT23ftwpQGBDmsp64PoyxmaONGINisrVw8xptVAAAAAirnu4yYxxdLGDFIPuwrW66cotvMCKqpta12ToyxdLIDDDELfxvf75ntsTKFFdsqY45Xpxuq00zuuywxhTy61VtyWCAAASwsc07YStxwuqppsuugVt60ltoCAAAAGqqy/sRlw21zxsquusUz94dtoFAALNCAruf66bgzysbYYlwxqVx1tYvvLAAAKrujw7uRpw0urmfilpwxkq4qqpIBAAAAqrbu6zTfx1uxvtvxsWRm62VoqjBAAAABczvo71TOmvy0wzyoTOY88essJAAAAAAfum42SNOeottruvnQd47tsvSBRUUUTFSwso75Rcuxwx0zyiOZ43SqsZDAAAALvoa88lNVpsouz0xwpXS66uvdAAAAAAUtrS47YOKTHMJGJKJPY76ngwuHGTaUKAGmvm490QLLOVYWPLPV12tmsaAESWVRHEusx61VNLJIJQTMMT39lUpoHQVPAJUPEorb09yRJOdljbKOT49vmsmAEPYPAAdysq56UQNMScgdeaNRo0xprBAMWVVSBirnl83VQJMLLNKKTX37uQsybIRWLQTOCJsvp6+4WNJFKNPQX593VvuFKRSPQWTMnrW5/sWONQQOMOSr95WuwXNSMAAAGRNSutd03XOJJJJMQX150VusNKOQTWVLCqsRu42UOJKMNMLKLU85lsXKVYVQVWNEwvY08zURYWUTTRV5+zUqwgANQCAANQPGitgf79tSROLOTX140SoukQUSDAADUSRwun820hSRSQRQd76WSvpIPLAAAAALLKpsgr79ZUQNKNU3/5XqtdGRTBAARPIfwpR2+vQUONPINPS12mqtHNLKAAARSKXopX7+/y5641w0960VYpmIMPIAAAAJROHtqSg+/6qjiix//4ROvtJRPAAAAAEPNqtXr58++4upr0+8pbtrYOSAAAAAAAJLWssV098vZVVk345fZutBLRFAAAATUGnuVc9/+0pibXas881bspQRGBAAAAPMAnueb36897/78//vSLtydJPPAAAAAAIPOqyhTg7+99///82WRswgLNAAAAAAAJIdtsOXy66+//7//wVvxtKNJAALNNLAIRMjqhP29//55//8dSwuWMSLAAAAAHSPcqsSdz//99////71ZrrWOLAAAAAAGMKVvyXao2fddjjkfXTqujCPQAAJMHAAARSVttZPYw1068zgTSnwrELJAAAJMHAAONuygQUTTiuy0sZPnviTLIAKJOLPNLAMJOvxYYax3586tUVotmFQOAAFIKAAINLsvqRTUq36867zbQWvsNMAAAGJIIAIGAmvlNQUMRPNOOPNlxpINRLCLPQNNIAAPHluweSOOQQSNNNixuUNRAAMNOMOLBLIXwuILPOTRTSORVwuGJMLHLNAAANPLJPLfwvONXYUXWTQexpKKPCALPPLIAAMNUuvbOQSRPRTVRRRwvdIJAJPNNONHAIINwwaIHPPNKKNMiutSEJRANOGAAOMJAHGNhvuPKNNNMNMfwudIQODIJFAALOEALHlzzZOLNNNMNMuycAPOFMJAAAAAMKAJJAmvoNPMNMHJWsuZAMNAIKKAIONAILGTsvWKJMORQNKIcvrKMANTPGAAOMCKJFgvwhKVWXWRQlxsZDMPFGNLAAAAHHFAKJGgsuVJJJMNlwueEOOAIMFAAAAHOGGBEowzwqbONKNuzqGGHJIJAACAAAAHJKRNOuvrPKKIGcwvdALOAIJNAAAGKHALNDjxxlTLNOHJOoyuaOIGPJAAAAAKDAJLHdvwutrxwz00xaBKLEAJMAAAAAAOOEKNACl02wtyywutXBFLFDGAAAAAAAIEDJHGcv12xsptutpOMMJBGLAAADDAAKKEIMGdxzxropqrviFMPGALKAAAAAFLFHKIFjxyxquuru0yxkEEAJMAAAAAAHKFDKMGUpwoljkmqlMAAJNAGJCAAAAAAAKHHJKAGcsxwzwqlNDCMIAHLAAAAAAAAEAGJAAHKYgourulOCNPGIMAAHLLLGAAIGAMLFQgxyywyxbFEMHAHJAAAAAAALHAOPHJQgpsxwwsunTBJKIMAAAAAACAKJAMLAAHMFGIHGIGACKJAGMLAHJJLGAACJDIMIADLQPMLLJAAFKIDBAAAINMJFADADLNAAABEINQPKAGLAFJJCGJCAAJHAIHAGGGAHNRYXJCGDLHADFFAAGKMBAAEDAIHDBDINQQNKHHBFIEFCAAIKJLKACIAALNAAABAAAADDALKFAFJAAHIAGFIEAJEALMIAAAAABAAALLJAJEADDIAALGDADCJJFAAAAAAAAAAIJAEGAAIAAAAAHDAKKAKIAAAEAAAAAIKEAHGAAILAIAAAGEAEKJAABAAACCAAAHJEFCGIKIAAHFAGHAFKKAAAAAAAAAMOIAEGCAFIAAAAIIAAEAALIGEAAAAACHGKEECAEOIAAAAEFCJHAJOJAAAAAAACIGAABAADAAAAAAAHBDEBCJMEAADAADLJNALKAAJKAAAFFAACBAHKLAAAAAAAAAGFEDDAAGAAAABEDAHGAIOKGOKKKIKNNIAGEDAAGFAAAAAGEAHGAAKMKCCAAFLNHAADGADFAAAAAACAACAALOLJJGADJMLAALIAADAAAAAAABBAGGAGMJGAAAAJKJAAHEABHCAAAABDCGIBAKNLLHDAAACMLFABCBAAAAAAAFAAEFCACKPJILMIJHEAADCAADAAAAAAAAEFFKFAAJMLLNIEHFAABDAAAAAAAAAACAACEAAADKKHLLLJCACHGDFAAAAAAAAADCDFFADHKHIKNNHAAEFAAFGBAAAAADAAJJAACKOMPPMMHJFADAAGCAAAAAAADAAABAAAAAAAADAAAAFFAAGCAAAAAAAAAAAADCAAAABAAAAAAEECABAAAAAAAAAAACEAAAAAAABBAAACHAAABAAAAAAAAACBACAAAAAHIHCAAAHCABBAAAAAAAAAAAADAAAAAAACEEAAAABICEAAAAABAAAAAADEAAAAAAAAAAAGFCAACAAAAAAAAAAAABHCAAAAAAAAAAFEFAAAAAAAAAAAACBADDAAAAAAAABBAHHAAAAAAAAAAAAAABAADAAAAAACCAADBCAAEAAAAAAAAAEAAFDAAAAAAAAAAAABGAAAAAAAAAAAAABACFBAAAAAAAAAABAAAAAAAAAAAAAAAAAACHCAAAAAAGDAAEAAAAAAAAAACAAAAAAJHAAAAAAAAAAAAAAAAAAAAAAAAAAAAAFEEAAAAAAAAEFAAAAAAAAAAAAAAAAADEAAABAAAAAABDAAAAAAAAAAAAABAAABHEAAAAAAAEEAAAAAAABAAAAAAAAADAAAGGAAAAAAFAAAAAAAAAAAAAAAAAAAAAEHHCAAAAAFEAAAAAAAAAAAAAAAAABAADGGAAAAAEGGAAAAAAAAAAAAAAAAAAAEDBAAAAAAAEBABDAAAAAAAAAAAAAAAAADCEKMJEDDBAAAAAAAAAAAAAAAAAAAAAADGEAEECIGAAAAAAAAAAAAAAAAAAAAACHIHHEFHEAAACAAAAAAAAAAAAAAAAAABFIHHJFEEAAAAAAAAAAAAAAAAAAAAABDDJKHHHHIDAAAAAAAAAAAAAAAAAAAAAB"},{"l":79.2,"t":307.7,"w":461.4,"h":133.8,"nx":154,"ny":45,"d":"AAAAADFJNMHACEAACLJILFDDDCFKGAAAEABAAAEQAAKAAAAAACBDAFHEAAAAKQIAAAAKQBAABAAADGLRMCADIAAAAAFICAFAAEIOMFAAACAEHINPLABBABACDAANREAAAAAAAAAAAJHAAAAAAAAAEDAAAADADAAEAAAAAAFIAAAACFAAAHPMCQMEADPQBAAAAEHFBABAAFAAAHKGAAADAAAAKEGHHABCBAAEJIAAAEJAAACCHHBAAAFAAAGLOPOAAACAAHHJAACDAAAAAADAAKFAADAADCAAEAAFAAKEDNPIGFAAAACHAHIAHCAAMMSPHFAAAAAAADJSQAGCABAAFABABCDCAEJBAAAFAAAAAAAAAAAAFFQUIEQOAAAAAAAJEAJDAAAAAAOCAHFAFMEAAGHEAAAFAAAIOODAAAAAHFALJAIKLLAACAAAAAAAAFAAICAAAGAAHKMAABGAAMKAGLBAAJIDAAAACAFBDAJOMAHAAALRHAAAGMBAKHGIIJSOKHDGAAAACIAADAAGDGRNIAACACAAAAADAAAABOPAAAAACAAAAAABEELMCAAAAFHCAEEAAAAAEAAAAACDAAADIFAAAAAAKMIBAAAAAAAAAERICBAADAJPFAAHMRPDABFAADAAAHICKAAAGCCAGIAAAEBAAAAEGAAEMKAAAAAAANEALAAAEAAAAANPIDJCBABAFAAAAADAAALCALJAAAAAADAAAADMKAAAAAAAAADHAADDAEAAABAABJFAAAAAAAAAAACAAFAAAAAAAADHBAELHAAABAFAAAAAAALAAAAAHGAAGGAAAADHKAAAAAAAEABHAAAIPGAAAAHOLBACBELNAAFNDAORGAAACAAADJKAEFAAAMFEHIKAJACAFEDFMGCADHHADMGAAAAAABAHLAGDAAHKOQOMAAAAAADJNDAABAAAALOPNEAAAAAAAABKEAFQVXMAONEAEEAHDAAAEMAECAAAAAADENSPKLADCABAHAAAAAACAAEGAAHOSPBIHACIKDAAAAAAAAAADAMMAAAAAAAADGAAAAHBAABOTQABCAAAAAIKAALKAAFAADLHEAAAIPIGDAAAAAHBAAFFDAAAAAAAAAAECACAAAFJCAGAAAAMKAFMIAACCAABMMAAEGLDAAAAAAAGJIABEAAAACAAAAAGABAGAJLCACIAAAAABAFGAAAABNHALGAADHAAAACHCNSUOFFJGHACHDFMAGMGAHDMIDAAHADAEFAAAAAABCCAAAAAAAAAAADMEAAAAAAAHHLMCAAAAAAAFEHCFAAAAMBBFCAHQCAAAAAAHHABAAHGAAAAAIMAAAAAAFNLAFJFAAAHELJAEAAAMEAAAAAAIMAAAACAAAAFLFADCFFAAAAAAABEAAALDAEAAAAEBAAHJDAAHIJNPIDFAKFAAFHKAAAAAADEAAFAAAHAFEEAAAAGFJFGAACBAFDAADHEABHEEEKMPGAHEGCADAADEADAABDAAAAAADAAABAAEGBAAAEIAAOPKAAACAACDKHAABHGFGFABAFAAFFHAAAGAAAAAAKGDNEAKPIGDACCAAEBEGALPIEAAAACAACHAAACNAAFAAABGDGAACAAAABLCHLLAGKPNODIGDJOVODFADKCEAAEKAAJFADEAAEAAMJFIOCACBACAAONAAAADKLLIHAAAEGDGGIFJHKLGAAGFBEHCEFHAACONAAAABHJJMPDEJILANKICAACGAAHFAAFAAADDBFFDEADDAJHOOEGLADAMTIAABFECMIALIJHCEMECLQHDBJADDAAAGIKEABLAGCJQLCKPIDHKNLAADNGBBAFAAEAAGAFELAANNKGLMOADFAAHNKFKGMPUMLKPPGAFIILRQMKIIGEDAAABAGEAGMNJBBNNINIBEIKFGBKMAEEEBADAAAABAFJAAAAIGFMLNQGFNMFGJLIEADEADBJJIGKMAJJFGAKNACAKOKEAAABIDBILCHKFEEACPPKJMKRRIYWQPNEQXXSPNCABAEQPFNKLKKNSPPRRTTPNLADQMEHEGAJABMSTQJEDOOMKQSDRQGKRLAGILMCAAAAKKEKHAGNVWNPWcbXOOOPRRMAIMIMMCIKORQOROQXVSRSPKDINDKIGSJBGCCKJNPQQIJKNWVQWVUWPOSURQLOLPVUNHJGMPSRKORSXWOTXRRVORSNJOMOLPULDFOQKHQKCNNSHQXNIHHJMTSJIIFCAJNKJLMILJKSVSHGRTennkVLTSLUORURORNBORLLMLIORLPRaXJQVQMQOJAFHEJNGFIEIHHJLRSRUXccVVidZhgXbRFOPMNJMPNGLPMIQTRUlovtmfeUROQNGQORUTLABGFQRQWUOGRVfpriVYVTPQOMQTKJFLLMNJOQPLQNZegqiioqpocXXSTDQTOLSVVPNMXWRYYZSennjhaWOMRLCGNMLFKVUOQPEQRUbdfccinmpllnWdYoqoiZRTYTRUWTWVSXlrtskenusmgWOQKFRSQRHLRONDJKOZWWmmcaXlmilcaWVUJIMPNTNIPDTXWUXgcmfhmlogasrjkkhaZYSQPPZdYPZikfefjciffaZYTROHOVbecTWYXbbSOSSRUeilZggdhmgdkmdVccmsndXWVcfjhbZhimmjpqkjmqtvpiZSTNKMXYXTOOWdiYmxoWRbfOdcjfbfocWTTNTXWWWWYZgnncUjlbjecjgglsupjUmnhqqpkoogloilkkglpmlfegeaUYXbgrmgchhebaZeVhfbdbWjtqnehlfjbPknigknrsqpopbfdgXfjhiXkhipjcggkrgjojfXUVjlchlkkhecdnjjdkmkclngepqjaabaRadadXVeoqjjvzdwrtvnYggaikXZlhPijgjmjfiijmonkehijiZZdWjklmijhokdmlfeggmnimlrvwuplknrppnqsoedebcabkbYpts4874uhklnnkppfilkqquwxteGbhYjrodamdZjeenjbglllqnibejkfZmblqmwy2+/43+5pgipggehjfZWglkaforrqjw57vnekgTbnofbTVXgbTYabdjhgknofqu6950wxw5/6urujdglpgdkjqqokqrwvw870wzyrjomhgnmjkgnmlhhghdSmpu149+75yolmnlgZaedeUenkgmhlrxrptz01vpryv47zvecicngUUbkgXnuypyvw51247ogfjhihfcimjkUempplXdjuzw69+5xws113220x3x0vjhgjiekyz1702wvyi1z13o13ufhpohcpnckkaglntt20rx456x5544xtorodonfkonjqovyy77y6zpiWXr//+6650usmvyy120qy0zy1600vn1446sellrwtuz50t6584331368/6zpijkfemvrlpyupm0687/+/82sstx2cglmttt0kqt0503630rgfkix455673y4xhYkox4321562q4zfUmkad19/z3zvlgpoifimgklr65yix575yonw25vulljlqutr034z1z2zpy2uh0577379//864knnmkleijljZdopnby047267/9wy5ywuohjhhjcdfw+8775yy130411w1//4t1iUgqusrjfdmu++ww329/6v1143yxnggejjbffhWZlkttnutt0ex31yyrpnopqihdfjqsi03y1o05mswyys04z1673tnkdZhkgbcdfnkcXahnfZegtmcdfZdqrjlnhdhonjoldhdjkgk12zut2y7zv1xoqifkgjolmkhgmlrty360tx39zz21rgeaiikjlislfkjoleccbkfemhieNgroiifXZdbdmjdjkvpnpoTpiffgknklnlllhgknpqplkoqledonjYYjmmhckkjeZnpmfmmqhiqrjQaotojfZZdklfdfeicgiheSiopgrshkebkobepshjmz851kkkglebssmgSLTglmnnmgedgqpmjmjpncgjnkhbehistihhhiifirpYeelihjmhbhfhhosplbegXOVcbWahonlqnkqqlZegnmiXjlhUVPJXmkdrokfMXaZhbcnnhdlokolmoroWXfkkcrsiZUkiisrijfjgbZhhkgbhZTVVPWXemmcdhfhnqhakpmookogkibNabbinnfcVdhjonopuqioqnljdiy1tYeeVLWVVROQZefNSUfkjVoutoknrdWTQVPPSTLQXcdkYdlplqpqlXWepnjhljkhbUMNPXZYWclpqhhcjififdXXjbmjXKHLPNHRHFGRTXZeomipgcelppghgTQXRPNSJSfhlnZmrvrhlldTefgllmnlhZPTVOMNTOQNNNJKKLMSYccaSTYVXTXVUTRREIKFHWVSPSYVPajhifghgjpnldOVecOPNTWSOLSNSVcjlnqokjfkkrlhdXUJKKFAFHPQWXTTVOTWSLRXZWZWVZVPPOIKJLJKRdeSeeafgYXVUWTTTUaQVYNSTSUORMMKGFBHCFLIMYYQNLRZVLMREKRRSOKFACJNPQTVYZVUaYQOWbZVSYTOVVPRTNGJLAHHKNTVVUNRWhlongdZYUPLILQRNBAMIAHMLRQUUNJJJKRGLQUQMSQJMKLKNNGJQPPNLKOQLPLTUQQMKNPQQVXTLAGFBRRONOQNLJILDQVULPSNLGHCJGGEAADLPPEHWXSNMONNSUXQRUNRTTZTNMRJIGFFAQRMPNRRTRVaZRJUUMNRUOHMEFFCECEGASWOMQEJOHFOOEFHFLSTJBIHLGBJMSMGCJRSNOHOTRLIISUPOMRNKBAAABKAACHCAACALQLHMCBEAAKBAAABAAABFKQNBABJFHOKBISVXZaYNCHPMIHMNMAAAEGKJPMEAJJPPOMLQTPOQOMILHAAAACFAAAAAAJLAENHABAGJEAHMCFBPSGGNPNFOKLMLNGMQBEJIFKAAAAKGGPKAAAAABMPMPKAKMEGGAHEFAAAAHLMMFAAAAAGEAAHIGDFPQGFHLQWSMMFFLKBAAELOJGJCGHHFEAJRLDIDGAHNMLKJHHGAAAAABEFAAAAIGACGCFBAAGLHGAAAAAJJAGICAFJMUSACMKSREQOCJMJACEGNHABAFLDFAAIMFCAAADEQNCAAAHADNICCLIFACJPMNOKHTQPPJACQROMHAAABMROJAAIJAAHCEAADFDFIGONONRPMEAAJDLMAAGJCABAAAKEAAAAAGBBEAAAAAAAACIFBAELIBINIAAAAFACDIGGFFJCEGLPNPOGAIAAKLFAGLLAHAAAAABDAAAAAAMAABCAAAADGAADNKAAJLKPFAABLAAAADAAJBBHEAAGAGNHPAEEAABCMMFACKDACGCADCAAAAAAKHABJGKDAAAAAADAAHDAAAAAAAEAAEEEAAAAAAGKGEAHPNAHNLLIDKQGAAADFACAAKGAAAAAAHGCBAFIFAAAHMAAADGCOHGICAEPGICAAEACLHAAAAAAAAAAFORAGMGJAAAAAAAAACJMNKBNGKMAAAAFNPGAAABAAAKNIIIAAIQKAGJAACJPRKAIKLPGEKAABAAAAAAAAAAABAAAHAAIAAAAGAADHAAAABJMNJAAAAAAAGKAAIGAEKEAAADAAAAAACLIBAAHIFALHAJKMAAHFHAGCAAACFAAAAAAAAAAAAAHAAMOAAAAHHAAAFFEHFAAAAAAGOJIOQMNDAAAAERLAAAAAAADEECAAAAAAAAKPOCIHAAAAABAAEAAAAAAAAADAAMMKAAAEJAGRSIAAAAFHGAAGAADHAHJADGACGGNQNDAHNMCADAAAACACAFGAAAAAAAABLFEFEAALOMIFEAACAHBAAJLMAAAIAABIAAKBAAAADKAAAAAAAACEADHFBAAAJABHAAAAAGMOOHLPNBAAAAAFDDAAAAAAHQAAADELRQLAKAAAAAAAAAADOHFFNIHJEHAHEAAEAAAAAHPOAAGFAAAAGDAAAAJNNAAAALGAHGAAAAAAAAAAMVVPHFAAAAAIAAAAAAAAHAAABGCFGFKOOFHAKSLABALGAAGEECAAHNQMRTAAAHIEJNHHHFAAAPXHAAHAAAALQRQAABAAAPKAAAJIBIIAAAAAAAAAAACHAAEAAAADBCKJKCAAAEKQOLAAAAAHBABAAAAAAAAAADIIACAAFAAAAAAHEADNAAIABJHEEGAAAAABAGIDBBCEFACFAAAJKHMNCAAAFLJGAAJKFAAAABAMIAFEACLJAAAAAAAHCAAAAAAAAAAJEACCAAAANNAABIAAHBAAMAAAJHEAAAAAALSYTAAGJABAAEKMKBAABFFAAKAAFIGBLAALKAAGADGAABAAAAAAAAADAFAAAAGKJJAAAKAAHGAEIAAFJBAAAAAAAAFAAAAHIBAIJABAAAIGCJFAECAAAAAAAAABAAAAAGOAANKAEGEAAAEHDAHGAAAIFABLMAADAADGAAAADAALEBPMNAFOAHJAEAEABGBAAABAAAJIAABIGCBAAAAAJEAAACAQOCAAAAAAAAAALPAEORQAAONGAAAAAAGEAADNBAAIDDSRJAAHGKMNACJEHRMAALBAADAADNOIJJBAAAFAHHCAAAEBAJMCAAAJGMDAIMHAAFAAAGDIFEAHAAADIHHEADAAAAAIDAAAAAAAALMDABADHEGRUCDOKLGIOEAAOTOOKAAAAAAAGKAIEAAAEAEJJOKADPQPIAAAAAAABAAAAFAAKCAAAAAAAAKEAAAJGAAALPLAAAAECHGFKMAAAMMHAAAINJBAAHMEAAAAAAAAAAAAAAAIPKAAAAEIMJHAAAAABAAAAAAAAIFIAADMPIAKAAFAAQODABHAAFEAACAAACDABAACGAGAAAAAAAAAAAACAAAAAADAAABJFAAAAADAAFFAADFAAGHCAAAEAAAMMDAAAAAAAAAAAAKMAAJIAAAADAABCAAEAAAAAAAGLAAAAHFGAAEAAA"}];
var B="ABCDEFGHIJKLMNOPQRSTUVWXYZabcdefghijklmnopqrstuvwxyz0123456789+/";
function jet(v){function c(x){return Math.max(0,Math.min(1,x));}
 return [c(1.5-Math.abs(4*v-3)),c(1.5-Math.abs(4*v-2)),c(1.5-Math.abs(4*v-1))];}
var cols=[];for(var i=0;i<64;i++){var v=(i+1)/64;var c=jet(v);cols.push('rgb('+Math.round(c[0]*255)+','+Math.round(c[1]*255)+','+Math.round(c[2]*255)+')');}
for(var p=0;p<S.length;p++){var sp=S[p];var cv=document.getElementById('c'+p);
 var W=Math.round(sp.w),H=Math.round(sp.h);cv.width=W;cv.height=H;var g=cv.getContext('2d');
 var cw=W/sp.nx,ch=H/sp.ny;
 for(var j=0;j<sp.ny;j++){var y0=Math.round(j*ch),y1=Math.round((j+1)*ch);
  for(var i=0;i<sp.nx;i++){var x0=Math.round(i*cw),x1=Math.round((i+1)*cw);
   g.fillStyle=cols[B.indexOf(sp.d.charAt(j*sp.nx+i))];g.fillRect(x0,y0,x1-x0,y1-y0);}}}
})();
</script>
</body></html>
